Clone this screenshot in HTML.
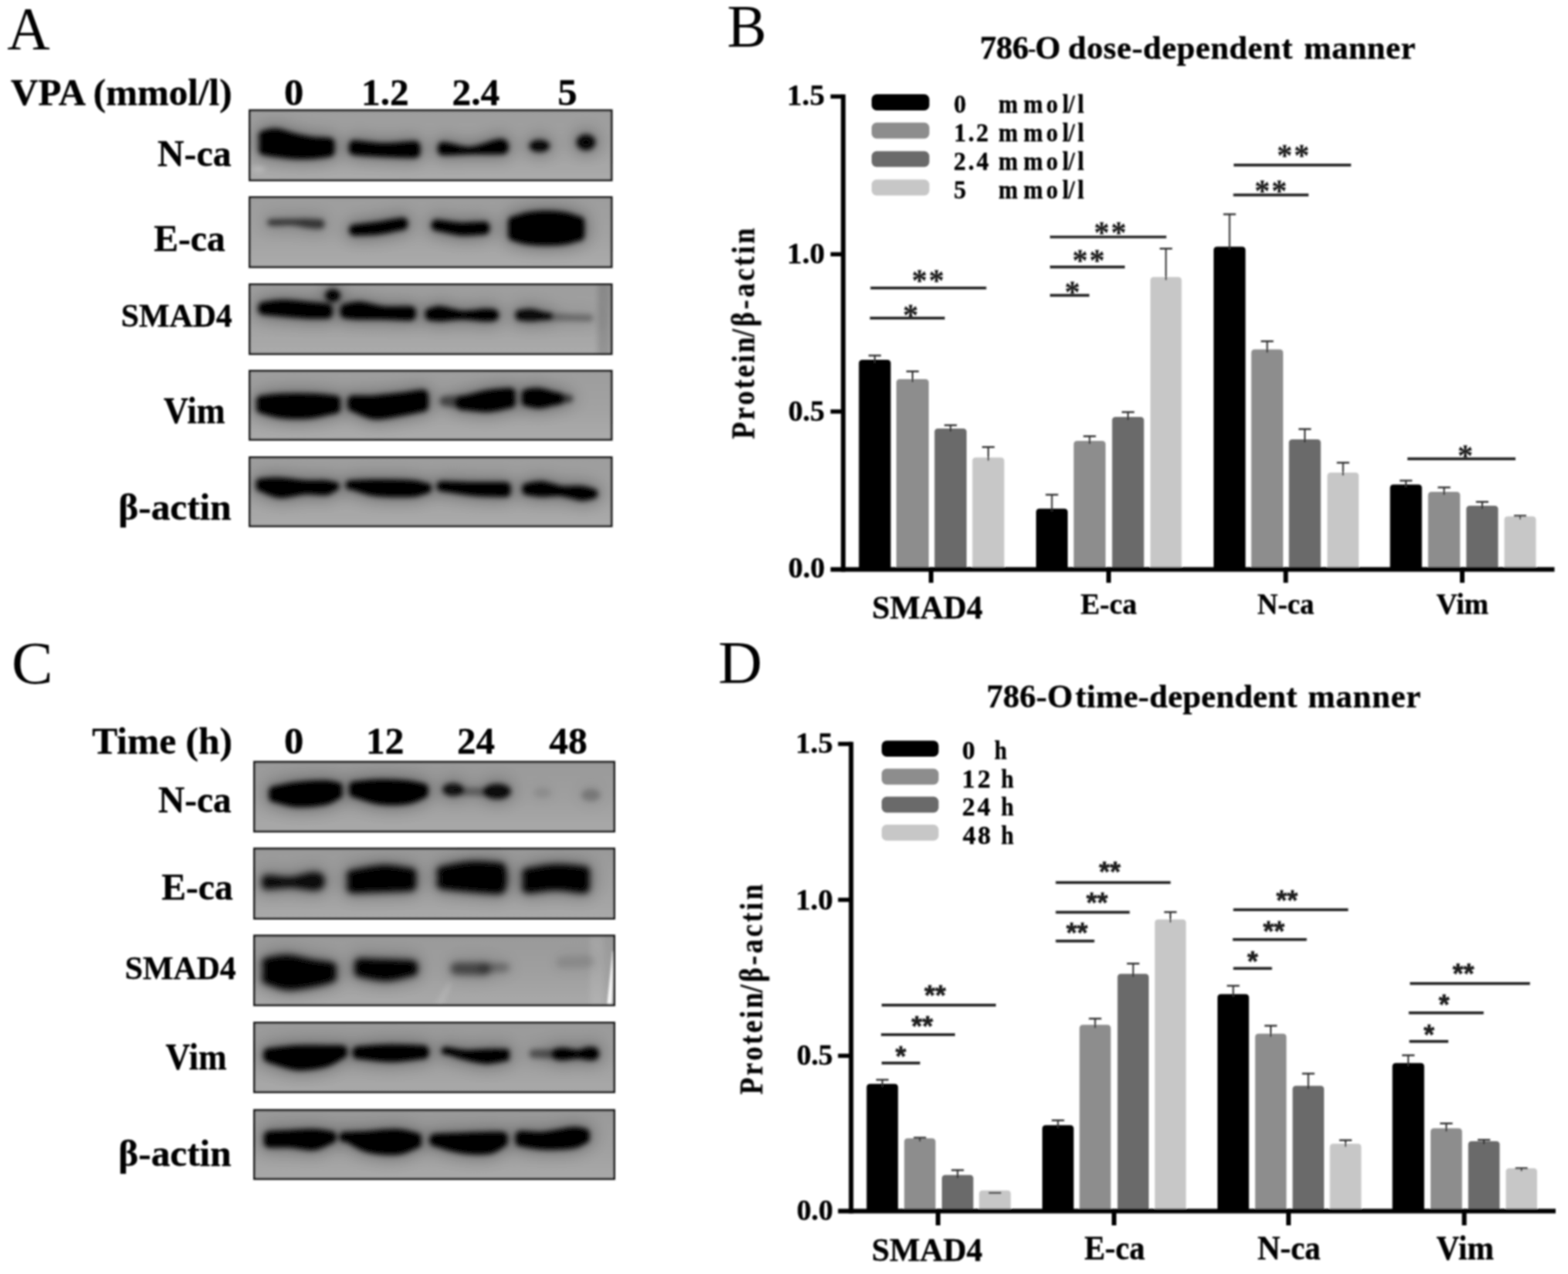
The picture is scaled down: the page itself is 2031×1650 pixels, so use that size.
<!DOCTYPE html>
<html lang="en">
<head>
<meta charset="utf-8">
<title>VPA regulates EMT markers in 786-O cells</title>
<style>
html,body{margin:0;padding:0;background:#fff;}
body{width:2031px;height:1650px;overflow:hidden;}
svg{display:block;}
text{white-space:pre;}
.sb_{font-family:"Liberation Serif","DejaVu Serif",serif;font-weight:bold;stroke:#000;stroke-width:0.4px;stroke-linejoin:round;}
.ss_{font-family:"Liberation Serif","DejaVu Serif",serif;font-weight:bold;stroke:#1c1c1c;stroke-width:0.3px;}
.sr_{font-family:"Liberation Serif","DejaVu Serif",serif;font-weight:normal;}
.ab_{font-family:"Liberation Sans","DejaVu Sans",sans-serif;font-weight:bold;stroke:#1c1c1c;stroke-width:0.5px;stroke-linejoin:round;}
</style>
</head>
<body>
<svg width="2031" height="1650" viewBox="0 0 2031 1650">
<defs>
<filter id="soft" x="0" y="0" width="2031" height="1650" filterUnits="userSpaceOnUse"><feGaussianBlur stdDeviation="1.0"/></filter>
<filter id="b3" x="0" y="0" width="2031" height="1650" filterUnits="userSpaceOnUse"><feGaussianBlur stdDeviation="3.0"/></filter>
<filter id="b1" x="0" y="0" width="2031" height="1650" filterUnits="userSpaceOnUse"><feGaussianBlur stdDeviation="1.3"/></filter>
<filter id="b4" x="0" y="0" width="2031" height="1650" filterUnits="userSpaceOnUse"><feGaussianBlur stdDeviation="4.2"/></filter>
<filter id="b5" x="0" y="0" width="2031" height="1650" filterUnits="userSpaceOnUse"><feGaussianBlur stdDeviation="6"/></filter>
<filter id="b9" x="0" y="0" width="2031" height="1650" filterUnits="userSpaceOnUse"><feGaussianBlur stdDeviation="10"/></filter>
<linearGradient id="gbg" x1="0" y1="0" x2="0" y2="1"><stop offset="0" stop-color="#9d9d9d"/><stop offset="0.55" stop-color="#a2a2a2"/><stop offset="1" stop-color="#ababab"/></linearGradient>
<linearGradient id="gbg2" x1="0" y1="0" x2="0" y2="1"><stop offset="0" stop-color="#999999"/><stop offset="0.55" stop-color="#a0a0a0"/><stop offset="1" stop-color="#a9a9a9"/></linearGradient>
</defs>
<rect x="0" y="0" width="2031" height="1650" fill="#ffffff"/>
<g filter="url(#soft)">
<text class="sr_" transform="translate(9.13,63.40) scale(0.9838,1)" font-size="78.00" fill="#000">A</text>
<text class="sr_" transform="translate(941.80,60.20) scale(0.9844,1)" font-size="78.00" fill="#000">B</text>
<text class="sr_" transform="translate(14.99,884.60) scale(1.0301,1)" font-size="78.00" fill="#000">C</text>
<text class="sr_" transform="translate(930.23,884.00) scale(1.0118,1)" font-size="78.00" fill="#000">D</text>
<clipPath id="c1"><rect x="322" y="141.6" width="471.5" height="93.1"/></clipPath>
<rect x="322" y="141.6" width="471.5" height="93.1" fill="url(#gbg)"/>
<g clip-path="url(#c1)">
<ellipse cx="335" cy="219" rx="9" ry="4" fill="#fff" opacity="0.22" filter="url(#b3)"/>
<g filter="url(#b9)" opacity="0.30">
<path d="M343.0,192.0 C342.9,189.4 342.9,180.4 343.0,177.8 C343.1,175.1 341.1,176.7 343.6,176.0 C346.1,175.3 351.9,173.1 357.8,173.7 C363.7,174.3 371.5,177.7 379.0,179.5 C386.5,181.3 395.2,183.3 402.7,184.3 C410.2,185.3 420.1,185.1 424.0,185.5 C427.9,185.9 425.5,185.0 425.8,186.6 C426.1,188.2 426.1,193.5 425.8,195.0 C425.5,196.6 427.9,195.5 424.0,196.1 C420.1,196.7 410.2,198.1 402.7,198.5 C395.2,198.9 386.5,198.9 379.0,198.5 C371.5,198.1 363.7,196.9 357.8,196.1 C351.9,195.3 346.1,194.5 343.6,193.8 C341.1,193.1 343.1,194.7 343.0,192.0Z" fill="#000" stroke="#000" stroke-width="25.0" stroke-linejoin="round" opacity="1.0"/>
<path d="M461.2,193.3 C461.1,192.6 461.1,190.2 461.2,189.5 C461.3,188.8 455.8,188.5 461.8,189.0 C467.8,189.5 485.5,192.3 497.3,192.5 C509.1,192.7 526.1,190.5 532.7,190.2 C539.3,189.9 536.2,189.8 536.9,190.9 C537.6,192.0 537.6,195.5 536.9,196.6 C536.2,197.7 539.3,197.4 532.7,197.3 C526.1,197.2 509.1,196.7 497.3,196.1 C485.5,195.5 467.8,194.3 461.8,193.8 C455.8,193.3 461.3,194.0 461.2,193.3Z" fill="#000" stroke="#000" stroke-width="25.0" stroke-linejoin="round" opacity="1.0"/>
<path d="M571.8,195.9 C570.8,194.7 570.8,190.6 571.8,189.4 C572.8,188.2 571.6,187.8 577.7,188.6 C583.8,189.4 597.4,195.0 608.4,194.4 C619.4,193.8 636.4,186.4 643.9,185.0 C651.4,183.6 651.7,184.5 653.3,186.0 C654.9,187.6 654.9,192.8 653.3,194.4 C651.7,195.9 651.4,195.2 643.9,195.4 C636.4,195.6 619.4,195.2 608.4,195.4 C597.4,195.6 583.8,196.6 577.7,196.7 C571.6,196.8 572.8,197.1 571.8,195.9Z" fill="#000" stroke="#000" stroke-width="19.2" stroke-linejoin="round" opacity="1.0"/>
<ellipse cx="698.8" cy="189" rx="18.5" ry="13.2" fill="#000" opacity="0.95"/>
<ellipse cx="759" cy="184.3" rx="17.5" ry="15.5" fill="#000" opacity="0.95"/>
</g>
<g filter="url(#b3)">
<path d="M343.0,192.0 C342.9,189.4 342.9,180.4 343.0,177.8 C343.1,175.1 341.1,176.7 343.6,176.0 C346.1,175.3 351.9,173.1 357.8,173.7 C363.7,174.3 371.5,177.7 379.0,179.5 C386.5,181.3 395.2,183.3 402.7,184.3 C410.2,185.3 420.1,185.1 424.0,185.5 C427.9,185.9 425.5,185.0 425.8,186.6 C426.1,188.2 426.1,193.5 425.8,195.0 C425.5,196.6 427.9,195.5 424.0,196.1 C420.1,196.7 410.2,198.1 402.7,198.5 C395.2,198.9 386.5,198.9 379.0,198.5 C371.5,198.1 363.7,196.9 357.8,196.1 C351.9,195.3 346.1,194.5 343.6,193.8 C341.1,193.1 343.1,194.7 343.0,192.0Z" fill="#000" stroke="#000" stroke-width="14.8" stroke-linejoin="round" opacity="1.0"/>
<path d="M461.2,193.3 C461.1,192.6 461.1,190.2 461.2,189.5 C461.3,188.8 455.8,188.5 461.8,189.0 C467.8,189.5 485.5,192.3 497.3,192.5 C509.1,192.7 526.1,190.5 532.7,190.2 C539.3,189.9 536.2,189.8 536.9,190.9 C537.6,192.0 537.6,195.5 536.9,196.6 C536.2,197.7 539.3,197.4 532.7,197.3 C526.1,197.2 509.1,196.7 497.3,196.1 C485.5,195.5 467.8,194.3 461.8,193.8 C455.8,193.3 461.3,194.0 461.2,193.3Z" fill="#000" stroke="#000" stroke-width="14.8" stroke-linejoin="round" opacity="1.0"/>
<path d="M571.8,195.9 C570.8,194.7 570.8,190.6 571.8,189.4 C572.8,188.2 571.6,187.8 577.7,188.6 C583.8,189.4 597.4,195.0 608.4,194.4 C619.4,193.8 636.4,186.4 643.9,185.0 C651.4,183.6 651.7,184.5 653.3,186.0 C654.9,187.6 654.9,192.8 653.3,194.4 C651.7,195.9 651.4,195.2 643.9,195.4 C636.4,195.6 619.4,195.2 608.4,195.4 C597.4,195.6 583.8,196.6 577.7,196.7 C571.6,196.8 572.8,197.1 571.8,195.9Z" fill="#000" stroke="#000" stroke-width="9.0" stroke-linejoin="round" opacity="1.0"/>
<ellipse cx="698.8" cy="189" rx="13.4" ry="8.1" fill="#000" opacity="0.95"/>
<ellipse cx="759" cy="184.3" rx="12.4" ry="10.4" fill="#000" opacity="0.95"/>
</g>
</g>
<rect x="323.4" y="143.0" width="468.7" height="90.3" fill="none" stroke="#1e1e1e" stroke-width="2.8"/>
<clipPath id="c2"><rect x="322" y="254.2" width="471.5" height="93.0"/></clipPath>
<rect x="322" y="254.2" width="471.5" height="93.0" fill="url(#gbg)"/>
<g clip-path="url(#c2)">
<g filter="url(#b9)" opacity="0.30">
<path d="M350.8,288.7 C349.6,288.5 349.6,287.8 350.8,287.5 C352.0,287.3 353.1,287.5 358.0,287.4 C362.9,287.3 373.8,287.3 380.0,287.2 C386.2,287.1 390.0,286.6 395.0,286.6 C400.0,286.6 406.5,287.2 410.0,287.4 C413.5,287.6 415.2,287.1 416.2,287.9 C417.2,288.8 417.2,291.4 416.2,292.3 C415.2,293.1 413.5,293.0 410.0,292.8 C406.5,292.6 400.0,292.0 395.0,291.2 C390.0,290.4 386.2,288.6 380.0,288.2 C373.8,287.8 362.9,288.7 358.0,288.8 C353.1,288.9 352.0,288.9 350.8,288.7Z" fill="#000" stroke="#000" stroke-width="17.6" stroke-linejoin="round" opacity="0.62"/>
<path d="M459.6,298.2 C459.2,298.1 459.2,297.6 459.6,297.4 C460.0,297.3 456.7,297.9 461.8,297.3 C466.9,296.7 480.7,295.2 490.2,293.8 C499.7,292.4 513.5,289.8 518.6,289.0 C523.7,288.2 520.5,288.9 520.9,289.2 C521.3,289.6 521.3,290.7 520.9,291.0 C520.5,291.3 523.7,290.2 518.6,291.2 C513.5,292.2 499.7,295.8 490.2,297.0 C480.7,298.2 466.9,298.1 461.8,298.3 C456.7,298.5 460.0,298.3 459.6,298.2Z" fill="#000" stroke="#000" stroke-width="24.0" stroke-linejoin="round" opacity="1.0"/>
<path d="M566.0,292.3 C565.6,292.1 565.6,291.6 566.0,291.5 C566.4,291.4 563.1,290.8 568.2,291.4 C573.3,292.0 587.1,294.6 596.6,295.0 C606.1,295.4 620.1,293.9 625.0,293.8 C629.9,293.7 625.8,293.6 626.0,294.1 C626.2,294.6 626.2,296.2 626.0,296.7 C625.8,297.2 629.9,296.7 625.0,297.0 C620.1,297.3 606.1,299.1 596.6,298.3 C587.1,297.5 573.3,293.4 568.2,292.4 C563.1,291.4 566.4,292.4 566.0,292.3Z" fill="#000" stroke="#000" stroke-width="24.0" stroke-linejoin="round" opacity="1.0"/>
<path d="M665.7,303.3 C665.4,300.6 665.4,291.5 665.7,288.8 C666.0,286.1 664.1,288.2 667.5,287.0 C670.9,285.8 679.3,282.8 686.0,281.7 C692.7,280.6 700.4,280.1 707.7,280.1 C715.0,280.1 723.3,280.6 730.0,281.7 C736.7,282.8 744.6,285.8 747.9,287.0 C751.2,288.2 749.4,286.1 749.7,288.8 C750.0,291.5 750.0,300.6 749.7,303.3 C749.4,306.0 751.2,304.0 747.9,305.1 C744.6,306.2 736.7,308.8 730.0,309.7 C723.3,310.6 715.0,310.8 707.7,310.8 C700.4,310.8 692.7,310.6 686.0,309.7 C679.3,308.8 670.9,306.2 667.5,305.1 C664.1,304.0 666.0,306.0 665.7,303.3Z" fill="#000" stroke="#000" stroke-width="25.0" stroke-linejoin="round" opacity="1.0"/>
</g>
<g filter="url(#b3)">
<path d="M350.8,288.7 C349.6,288.5 349.6,287.8 350.8,287.5 C352.0,287.3 353.1,287.5 358.0,287.4 C362.9,287.3 373.8,287.3 380.0,287.2 C386.2,287.1 390.0,286.6 395.0,286.6 C400.0,286.6 406.5,287.2 410.0,287.4 C413.5,287.6 415.2,287.1 416.2,287.9 C417.2,288.8 417.2,291.4 416.2,292.3 C415.2,293.1 413.5,293.0 410.0,292.8 C406.5,292.6 400.0,292.0 395.0,291.2 C390.0,290.4 386.2,288.6 380.0,288.2 C373.8,287.8 362.9,288.7 358.0,288.8 C353.1,288.9 352.0,288.9 350.8,288.7Z" fill="#000" stroke="#000" stroke-width="7.4" stroke-linejoin="round" opacity="0.62"/>
<path d="M459.6,298.2 C459.2,298.1 459.2,297.6 459.6,297.4 C460.0,297.3 456.7,297.9 461.8,297.3 C466.9,296.7 480.7,295.2 490.2,293.8 C499.7,292.4 513.5,289.8 518.6,289.0 C523.7,288.2 520.5,288.9 520.9,289.2 C521.3,289.6 521.3,290.7 520.9,291.0 C520.5,291.3 523.7,290.2 518.6,291.2 C513.5,292.2 499.7,295.8 490.2,297.0 C480.7,298.2 466.9,298.1 461.8,298.3 C456.7,298.5 460.0,298.3 459.6,298.2Z" fill="#000" stroke="#000" stroke-width="13.8" stroke-linejoin="round" opacity="1.0"/>
<path d="M566.0,292.3 C565.6,292.1 565.6,291.6 566.0,291.5 C566.4,291.4 563.1,290.8 568.2,291.4 C573.3,292.0 587.1,294.6 596.6,295.0 C606.1,295.4 620.1,293.9 625.0,293.8 C629.9,293.7 625.8,293.6 626.0,294.1 C626.2,294.6 626.2,296.2 626.0,296.7 C625.8,297.2 629.9,296.7 625.0,297.0 C620.1,297.3 606.1,299.1 596.6,298.3 C587.1,297.5 573.3,293.4 568.2,292.4 C563.1,291.4 566.4,292.4 566.0,292.3Z" fill="#000" stroke="#000" stroke-width="13.8" stroke-linejoin="round" opacity="1.0"/>
<path d="M665.7,303.3 C665.4,300.6 665.4,291.5 665.7,288.8 C666.0,286.1 664.1,288.2 667.5,287.0 C670.9,285.8 679.3,282.8 686.0,281.7 C692.7,280.6 700.4,280.1 707.7,280.1 C715.0,280.1 723.3,280.6 730.0,281.7 C736.7,282.8 744.6,285.8 747.9,287.0 C751.2,288.2 749.4,286.1 749.7,288.8 C750.0,291.5 750.0,300.6 749.7,303.3 C749.4,306.0 751.2,304.0 747.9,305.1 C744.6,306.2 736.7,308.8 730.0,309.7 C723.3,310.6 715.0,310.8 707.7,310.8 C700.4,310.8 692.7,310.6 686.0,309.7 C679.3,308.8 670.9,306.2 667.5,305.1 C664.1,304.0 666.0,306.0 665.7,303.3Z" fill="#000" stroke="#000" stroke-width="14.8" stroke-linejoin="round" opacity="1.0"/>
</g>
</g>
<rect x="323.4" y="255.6" width="468.7" height="90.2" fill="none" stroke="#1e1e1e" stroke-width="2.8"/>
<clipPath id="c3"><rect x="322" y="367" width="471.5" height="92.69999999999999"/></clipPath>
<rect x="322" y="367" width="471.5" height="92.69999999999999" fill="url(#gbg)"/>
<g clip-path="url(#c3)">
<rect x="774" y="367" width="16" height="93" fill="#000" opacity="0.13" filter="url(#b3)"/>
<g filter="url(#b9)" opacity="0.30">
<path d="M343.0,400.4 C342.9,400.0 342.9,398.6 343.0,398.2 C343.1,397.8 339.6,398.3 343.6,397.9 C347.7,397.5 358.2,395.5 367.3,395.5 C376.4,395.5 388.9,397.1 398.0,397.9 C407.1,398.7 417.7,399.8 421.7,400.3 C425.7,400.8 422.1,400.0 422.2,400.8 C422.3,401.6 422.3,404.1 422.2,404.9 C422.1,405.7 425.7,405.3 421.7,405.4 C417.7,405.5 407.1,405.8 398.0,405.4 C388.9,405.0 376.4,403.8 367.3,403.0 C358.2,402.2 347.7,401.1 343.6,400.7 C339.6,400.3 343.1,400.8 343.0,400.4Z" fill="#000" stroke="#000" stroke-width="25.0" stroke-linejoin="round" opacity="1.0"/>
<ellipse cx="431" cy="382.7" rx="15.3" ry="13.6" fill="#000" opacity="0.97"/>
<path d="M448.2,404.9 C447.9,404.1 447.9,401.6 448.2,400.8 C448.5,400.0 446.9,400.8 450.0,400.3 C453.1,399.8 458.7,397.3 466.6,397.9 C474.5,398.5 487.1,402.8 497.3,403.8 C507.5,404.8 522.4,403.7 528.0,403.8 C533.6,403.9 530.5,403.6 531.0,404.2 C531.5,404.8 531.5,406.8 531.0,407.4 C530.5,408.0 533.6,407.9 528.0,407.8 C522.4,407.7 507.5,406.8 497.3,406.6 C487.1,406.4 474.5,406.8 466.6,406.6 C458.7,406.4 453.1,405.7 450.0,405.4 C446.9,405.1 448.5,405.7 448.2,404.9Z" fill="#000" stroke="#000" stroke-width="25.0" stroke-linejoin="round" opacity="1.0"/>
<path d="M556.2,409.3 C555.7,408.4 555.7,405.6 556.2,404.7 C556.6,403.9 556.4,404.6 558.8,404.1 C561.2,403.7 563.9,401.2 570.6,401.8 C577.3,402.3 589.5,407.1 599.0,407.6 C608.5,408.2 620.6,405.6 627.3,405.2 C634.0,404.9 637.4,405.0 639.4,405.8 C641.5,406.7 641.5,409.5 639.4,410.4 C637.4,411.2 634.0,411.2 627.3,410.9 C620.6,410.7 608.5,408.6 599.0,408.6 C589.5,408.6 577.3,410.7 570.6,410.9 C563.9,411.1 561.2,410.1 558.8,409.9 C556.4,409.6 556.6,410.1 556.2,409.3Z" fill="#000" stroke="#000" stroke-width="20.9" stroke-linejoin="round" opacity="1.0"/>
<path d="M672.3,410.2 C671.9,409.4 671.9,406.9 672.3,406.1 C672.7,405.3 671.9,405.9 674.6,405.6 C677.4,405.3 683.6,403.9 688.8,404.4 C694.0,404.9 702.4,408.0 706.0,408.8 C709.6,409.5 709.7,408.8 710.4,408.9 C711.1,409.0 711.1,409.5 710.4,409.7 C709.7,409.8 709.6,409.4 706.0,409.8 C702.4,410.1 694.0,411.6 688.8,411.8 C683.6,411.9 677.4,411.0 674.6,410.7 C671.9,410.4 672.7,411.0 672.3,410.2Z" fill="#000" stroke="#000" stroke-width="19.2" stroke-linejoin="round" opacity="0.92"/>
<path d="M703.1,411.3 C701.6,410.9 701.6,409.8 703.1,409.5 C704.6,409.2 705.9,409.1 712.0,409.3 C718.1,409.5 732.0,410.4 740.0,410.7 C748.0,411.0 756.0,411.2 760.0,411.3 C764.0,411.4 763.2,411.2 763.9,411.4 C764.5,411.5 764.5,412.0 763.9,412.2 C763.2,412.3 764.0,412.3 760.0,412.3 C756.0,412.2 748.0,412.0 740.0,411.9 C732.0,411.8 718.1,411.6 712.0,411.5 C705.9,411.4 704.6,411.6 703.1,411.3Z" fill="#000" stroke="#000" stroke-width="18.2" stroke-linejoin="round" opacity="0.3"/>
</g>
<g filter="url(#b3)">
<path d="M343.0,400.4 C342.9,400.0 342.9,398.6 343.0,398.2 C343.1,397.8 339.6,398.3 343.6,397.9 C347.7,397.5 358.2,395.5 367.3,395.5 C376.4,395.5 388.9,397.1 398.0,397.9 C407.1,398.7 417.7,399.8 421.7,400.3 C425.7,400.8 422.1,400.0 422.2,400.8 C422.3,401.6 422.3,404.1 422.2,404.9 C422.1,405.7 425.7,405.3 421.7,405.4 C417.7,405.5 407.1,405.8 398.0,405.4 C388.9,405.0 376.4,403.8 367.3,403.0 C358.2,402.2 347.7,401.1 343.6,400.7 C339.6,400.3 343.1,400.8 343.0,400.4Z" fill="#000" stroke="#000" stroke-width="14.8" stroke-linejoin="round" opacity="1.0"/>
<ellipse cx="431" cy="382.7" rx="10.200000000000001" ry="8.5" fill="#000" opacity="0.97"/>
<path d="M448.2,404.9 C447.9,404.1 447.9,401.6 448.2,400.8 C448.5,400.0 446.9,400.8 450.0,400.3 C453.1,399.8 458.7,397.3 466.6,397.9 C474.5,398.5 487.1,402.8 497.3,403.8 C507.5,404.8 522.4,403.7 528.0,403.8 C533.6,403.9 530.5,403.6 531.0,404.2 C531.5,404.8 531.5,406.8 531.0,407.4 C530.5,408.0 533.6,407.9 528.0,407.8 C522.4,407.7 507.5,406.8 497.3,406.6 C487.1,406.4 474.5,406.8 466.6,406.6 C458.7,406.4 453.1,405.7 450.0,405.4 C446.9,405.1 448.5,405.7 448.2,404.9Z" fill="#000" stroke="#000" stroke-width="14.8" stroke-linejoin="round" opacity="1.0"/>
<path d="M556.2,409.3 C555.7,408.4 555.7,405.6 556.2,404.7 C556.6,403.9 556.4,404.6 558.8,404.1 C561.2,403.7 563.9,401.2 570.6,401.8 C577.3,402.3 589.5,407.1 599.0,407.6 C608.5,408.2 620.6,405.6 627.3,405.2 C634.0,404.9 637.4,405.0 639.4,405.8 C641.5,406.7 641.5,409.5 639.4,410.4 C637.4,411.2 634.0,411.2 627.3,410.9 C620.6,410.7 608.5,408.6 599.0,408.6 C589.5,408.6 577.3,410.7 570.6,410.9 C563.9,411.1 561.2,410.1 558.8,409.9 C556.4,409.6 556.6,410.1 556.2,409.3Z" fill="#000" stroke="#000" stroke-width="10.7" stroke-linejoin="round" opacity="1.0"/>
<path d="M672.3,410.2 C671.9,409.4 671.9,406.9 672.3,406.1 C672.7,405.3 671.9,405.9 674.6,405.6 C677.4,405.3 683.6,403.9 688.8,404.4 C694.0,404.9 702.4,408.0 706.0,408.8 C709.6,409.5 709.7,408.8 710.4,408.9 C711.1,409.0 711.1,409.5 710.4,409.7 C709.7,409.8 709.6,409.4 706.0,409.8 C702.4,410.1 694.0,411.6 688.8,411.8 C683.6,411.9 677.4,411.0 674.6,410.7 C671.9,410.4 672.7,411.0 672.3,410.2Z" fill="#000" stroke="#000" stroke-width="9.0" stroke-linejoin="round" opacity="0.92"/>
<path d="M703.1,411.3 C701.6,410.9 701.6,409.8 703.1,409.5 C704.6,409.2 705.9,409.1 712.0,409.3 C718.1,409.5 732.0,410.4 740.0,410.7 C748.0,411.0 756.0,411.2 760.0,411.3 C764.0,411.4 763.2,411.2 763.9,411.4 C764.5,411.5 764.5,412.0 763.9,412.2 C763.2,412.3 764.0,412.3 760.0,412.3 C756.0,412.2 748.0,412.0 740.0,411.9 C732.0,411.8 718.1,411.6 712.0,411.5 C705.9,411.4 704.6,411.6 703.1,411.3Z" fill="#000" stroke="#000" stroke-width="8.0" stroke-linejoin="round" opacity="0.3"/>
</g>
</g>
<rect x="323.4" y="368.4" width="468.7" height="89.89999999999999" fill="none" stroke="#1e1e1e" stroke-width="2.8"/>
<clipPath id="c4"><rect x="322" y="479" width="471.5" height="91.70000000000005"/></clipPath>
<rect x="322" y="479" width="471.5" height="91.70000000000005" fill="url(#gbg)"/>
<g clip-path="url(#c4)">
<g filter="url(#b9)" opacity="0.30">
<path d="M340.7,527.8 C340.6,526.4 340.6,521.6 340.7,520.2 C340.8,518.8 336.9,519.9 341.3,519.3 C345.7,518.7 357.1,517.3 367.3,516.9 C377.5,516.5 392.1,516.5 402.7,516.9 C413.3,517.3 426.1,518.7 431.1,519.3 C436.1,519.9 432.6,518.8 432.9,520.2 C433.2,521.6 433.2,526.4 432.9,527.8 C432.6,529.2 436.1,527.6 431.1,528.7 C426.1,529.8 413.3,533.6 402.7,534.6 C392.1,535.6 377.5,535.6 367.3,534.6 C357.1,533.6 345.7,529.8 341.3,528.7 C336.9,527.6 340.8,529.2 340.7,527.8Z" fill="#000" stroke="#000" stroke-width="25.0" stroke-linejoin="round" opacity="1.0"/>
<path d="M458.9,525.6 C458.8,524.5 458.8,521.0 458.9,520.0 C459.0,519.0 455.1,519.4 459.5,519.3 C463.9,519.2 475.2,519.9 485.5,519.3 C495.8,518.7 511.1,516.9 521.0,515.7 C530.9,514.5 540.2,512.5 544.6,512.2 C549.0,511.9 547.0,511.5 547.5,513.6 C548.0,515.7 548.0,522.8 547.5,524.9 C547.0,527.0 549.0,525.3 544.6,526.3 C540.2,527.3 530.9,529.5 521.0,531.1 C511.1,532.7 495.8,536.6 485.5,535.8 C475.2,535.0 463.9,528.0 459.5,526.3 C455.1,524.6 459.0,526.6 458.9,525.6Z" fill="#000" stroke="#000" stroke-width="25.0" stroke-linejoin="round" opacity="1.0"/>
<path d="M576.1,519.9 C575.5,519.8 575.5,519.2 576.1,519.1 C576.8,519.0 576.0,519.1 580.0,519.0 C584.0,518.9 595.6,518.3 600.0,518.3 C604.4,518.3 605.4,518.0 606.5,518.8 C607.6,519.6 607.6,522.2 606.5,523.0 C605.4,523.8 604.4,524.0 600.0,523.5 C595.6,523.0 584.0,520.6 580.0,520.0 C576.0,519.4 576.8,520.0 576.1,519.9Z" fill="#000" stroke="#000" stroke-width="23.0" stroke-linejoin="round" opacity="0.5"/>
<path d="M598.5,523.5 C597.6,522.8 597.6,520.5 598.5,519.8 C599.4,519.1 598.1,520.6 603.7,519.3 C609.3,518.0 623.0,513.8 632.0,512.2 C641.0,510.6 653.4,510.0 658.0,509.8 C662.6,509.6 659.5,509.2 659.8,511.0 C660.1,512.8 660.1,518.7 659.8,520.4 C659.5,522.2 662.6,520.6 658.0,521.6 C653.4,522.6 641.0,525.9 632.0,526.3 C623.0,526.7 609.3,524.5 603.7,524.0 C598.1,523.5 599.4,524.2 598.5,523.5Z" fill="#000" stroke="#000" stroke-width="25.0" stroke-linejoin="round" opacity="1.0"/>
<path d="M683.5,518.5 C683.4,517.2 683.4,513.1 683.5,511.8 C683.6,510.6 681.5,511.3 684.0,511.0 C686.5,510.7 692.6,509.1 698.3,509.8 C704.0,510.5 714.1,514.1 718.0,515.0 C721.9,515.9 720.9,514.9 721.5,515.2 C722.1,515.6 722.1,516.9 721.5,517.2 C720.9,517.6 721.9,516.8 718.0,517.5 C714.1,518.2 704.0,521.3 698.3,521.6 C692.6,521.9 686.5,519.8 684.0,519.3 C681.5,518.8 683.6,519.7 683.5,518.5Z" fill="#000" stroke="#000" stroke-width="25.0" stroke-linejoin="round" opacity="1.0"/>
<path d="M715.5,519.2 C714.4,518.1 714.4,514.5 715.5,513.4 C716.5,512.3 718.6,512.2 721.9,512.6 C725.2,513.1 732.4,515.3 735.0,515.8 C737.6,516.4 737.1,515.8 737.5,515.9 C738.0,516.1 738.0,516.6 737.5,516.7 C737.1,516.9 737.6,516.3 735.0,516.8 C732.4,517.4 725.2,519.6 721.9,520.0 C718.6,520.3 716.5,520.3 715.5,519.2Z" fill="#000" stroke="#000" stroke-width="18.9" stroke-linejoin="round" opacity="0.6"/>
</g>
<g filter="url(#b3)">
<path d="M340.7,527.8 C340.6,526.4 340.6,521.6 340.7,520.2 C340.8,518.8 336.9,519.9 341.3,519.3 C345.7,518.7 357.1,517.3 367.3,516.9 C377.5,516.5 392.1,516.5 402.7,516.9 C413.3,517.3 426.1,518.7 431.1,519.3 C436.1,519.9 432.6,518.8 432.9,520.2 C433.2,521.6 433.2,526.4 432.9,527.8 C432.6,529.2 436.1,527.6 431.1,528.7 C426.1,529.8 413.3,533.6 402.7,534.6 C392.1,535.6 377.5,535.6 367.3,534.6 C357.1,533.6 345.7,529.8 341.3,528.7 C336.9,527.6 340.8,529.2 340.7,527.8Z" fill="#000" stroke="#000" stroke-width="14.8" stroke-linejoin="round" opacity="1.0"/>
<path d="M458.9,525.6 C458.8,524.5 458.8,521.0 458.9,520.0 C459.0,519.0 455.1,519.4 459.5,519.3 C463.9,519.2 475.2,519.9 485.5,519.3 C495.8,518.7 511.1,516.9 521.0,515.7 C530.9,514.5 540.2,512.5 544.6,512.2 C549.0,511.9 547.0,511.5 547.5,513.6 C548.0,515.7 548.0,522.8 547.5,524.9 C547.0,527.0 549.0,525.3 544.6,526.3 C540.2,527.3 530.9,529.5 521.0,531.1 C511.1,532.7 495.8,536.6 485.5,535.8 C475.2,535.0 463.9,528.0 459.5,526.3 C455.1,524.6 459.0,526.6 458.9,525.6Z" fill="#000" stroke="#000" stroke-width="14.8" stroke-linejoin="round" opacity="1.0"/>
<path d="M576.1,519.9 C575.5,519.8 575.5,519.2 576.1,519.1 C576.8,519.0 576.0,519.1 580.0,519.0 C584.0,518.9 595.6,518.3 600.0,518.3 C604.4,518.3 605.4,518.0 606.5,518.8 C607.6,519.6 607.6,522.2 606.5,523.0 C605.4,523.8 604.4,524.0 600.0,523.5 C595.6,523.0 584.0,520.6 580.0,520.0 C576.0,519.4 576.8,520.0 576.1,519.9Z" fill="#000" stroke="#000" stroke-width="12.8" stroke-linejoin="round" opacity="0.5"/>
<path d="M598.5,523.5 C597.6,522.8 597.6,520.5 598.5,519.8 C599.4,519.1 598.1,520.6 603.7,519.3 C609.3,518.0 623.0,513.8 632.0,512.2 C641.0,510.6 653.4,510.0 658.0,509.8 C662.6,509.6 659.5,509.2 659.8,511.0 C660.1,512.8 660.1,518.7 659.8,520.4 C659.5,522.2 662.6,520.6 658.0,521.6 C653.4,522.6 641.0,525.9 632.0,526.3 C623.0,526.7 609.3,524.5 603.7,524.0 C598.1,523.5 599.4,524.2 598.5,523.5Z" fill="#000" stroke="#000" stroke-width="14.8" stroke-linejoin="round" opacity="1.0"/>
<path d="M683.5,518.5 C683.4,517.2 683.4,513.1 683.5,511.8 C683.6,510.6 681.5,511.3 684.0,511.0 C686.5,510.7 692.6,509.1 698.3,509.8 C704.0,510.5 714.1,514.1 718.0,515.0 C721.9,515.9 720.9,514.9 721.5,515.2 C722.1,515.6 722.1,516.9 721.5,517.2 C720.9,517.6 721.9,516.8 718.0,517.5 C714.1,518.2 704.0,521.3 698.3,521.6 C692.6,521.9 686.5,519.8 684.0,519.3 C681.5,518.8 683.6,519.7 683.5,518.5Z" fill="#000" stroke="#000" stroke-width="14.8" stroke-linejoin="round" opacity="1.0"/>
<path d="M715.5,519.2 C714.4,518.1 714.4,514.5 715.5,513.4 C716.5,512.3 718.6,512.2 721.9,512.6 C725.2,513.1 732.4,515.3 735.0,515.8 C737.6,516.4 737.1,515.8 737.5,515.9 C738.0,516.1 738.0,516.6 737.5,516.7 C737.1,516.9 737.6,516.3 735.0,516.8 C732.4,517.4 725.2,519.6 721.9,520.0 C718.6,520.3 716.5,520.3 715.5,519.2Z" fill="#000" stroke="#000" stroke-width="8.7" stroke-linejoin="round" opacity="0.6"/>
</g>
</g>
<rect x="323.4" y="480.4" width="468.7" height="88.90000000000005" fill="none" stroke="#1e1e1e" stroke-width="2.8"/>
<clipPath id="c5"><rect x="322" y="591" width="471.5" height="91.70000000000005"/></clipPath>
<rect x="322" y="591" width="471.5" height="91.70000000000005" fill="url(#gbg)"/>
<g clip-path="url(#c5)">
<g filter="url(#b9)" opacity="0.30">
<path d="M337.2,630.9 C336.9,629.9 336.9,626.4 337.2,625.4 C337.5,624.4 334.8,625.0 339.0,624.7 C343.2,624.4 353.2,623.1 362.6,623.5 C372.1,623.9 385.9,626.4 395.7,627.0 C405.5,627.6 415.4,626.6 421.7,627.0 C428.0,627.4 431.4,629.0 433.5,629.4 C435.6,629.8 433.9,629.4 434.0,629.5 C434.1,629.7 434.1,630.2 434.0,630.3 C433.9,630.5 435.6,629.4 433.5,630.4 C431.4,631.4 428.0,635.6 421.7,636.4 C415.4,637.2 405.5,634.6 395.7,635.2 C385.9,635.8 372.1,640.5 362.6,639.9 C353.2,639.3 343.2,633.1 339.0,631.6 C334.8,630.1 337.5,631.9 337.2,630.9Z" fill="#000" stroke="#000" stroke-width="20.4" stroke-linejoin="round" opacity="1.0"/>
<path d="M453.7,628.5 C453.1,628.4 453.1,627.9 453.7,627.8 C454.2,627.6 451.7,627.9 457.0,627.6 C462.3,627.4 472.9,626.5 485.5,626.5 C498.1,626.5 521.8,626.9 532.8,627.6 C543.8,628.4 548.5,630.6 551.7,631.2 C554.9,631.9 552.1,631.1 552.2,631.5 C552.3,631.8 552.3,632.8 552.2,633.1 C552.1,633.5 554.9,632.5 551.7,633.4 C548.5,634.2 543.8,637.5 532.8,638.0 C521.8,638.6 498.1,638.4 485.5,636.9 C472.9,635.3 462.3,630.0 457.0,628.6 C451.7,627.3 454.2,628.7 453.7,628.5Z" fill="#000" stroke="#000" stroke-width="21.7" stroke-linejoin="round" opacity="1.0"/>
<path d="M573.6,630.3 C573.3,630.1 573.3,629.6 573.6,629.5 C573.9,629.4 568.3,629.2 575.3,629.4 C582.3,629.6 602.9,630.4 615.5,630.6 C628.1,630.8 644.4,630.5 651.0,630.6 C657.6,630.7 654.3,630.3 655.0,631.3 C655.7,632.3 655.7,635.8 655.0,636.8 C654.3,637.8 657.6,637.6 651.0,637.5 C644.4,637.4 628.1,637.5 615.5,636.3 C602.9,635.1 582.3,631.4 575.3,630.4 C568.3,629.4 573.9,630.4 573.6,630.3Z" fill="#000" stroke="#000" stroke-width="22.8" stroke-linejoin="round" opacity="1.0"/>
<path d="M683.4,634.9 C683.2,634.4 683.2,632.6 683.4,632.1 C683.5,631.6 680.7,632.2 684.0,631.8 C687.3,631.3 695.9,628.8 703.0,629.4 C710.1,630.0 718.3,634.4 726.6,635.4 C734.9,636.4 745.9,634.8 752.6,635.4 C759.3,635.9 764.3,638.2 766.8,638.9 C769.2,639.5 767.2,638.8 767.3,639.0 C767.4,639.1 767.4,639.7 767.3,639.8 C767.2,640.0 769.2,639.5 766.8,639.9 C764.3,640.4 759.3,642.9 752.6,642.2 C745.9,641.6 734.9,637.1 726.6,636.4 C718.3,635.6 710.1,637.7 703.0,637.5 C695.9,637.4 687.3,635.7 684.0,635.2 C680.7,634.8 683.5,635.4 683.4,634.9Z" fill="#000" stroke="#000" stroke-width="22.7" stroke-linejoin="round" opacity="1.0"/>
</g>
<g filter="url(#b3)">
<path d="M337.2,630.9 C336.9,629.9 336.9,626.4 337.2,625.4 C337.5,624.4 334.8,625.0 339.0,624.7 C343.2,624.4 353.2,623.1 362.6,623.5 C372.1,623.9 385.9,626.4 395.7,627.0 C405.5,627.6 415.4,626.6 421.7,627.0 C428.0,627.4 431.4,629.0 433.5,629.4 C435.6,629.8 433.9,629.4 434.0,629.5 C434.1,629.7 434.1,630.2 434.0,630.3 C433.9,630.5 435.6,629.4 433.5,630.4 C431.4,631.4 428.0,635.6 421.7,636.4 C415.4,637.2 405.5,634.6 395.7,635.2 C385.9,635.8 372.1,640.5 362.6,639.9 C353.2,639.3 343.2,633.1 339.0,631.6 C334.8,630.1 337.5,631.9 337.2,630.9Z" fill="#000" stroke="#000" stroke-width="10.2" stroke-linejoin="round" opacity="1.0"/>
<path d="M453.7,628.5 C453.1,628.4 453.1,627.9 453.7,627.8 C454.2,627.6 451.7,627.9 457.0,627.6 C462.3,627.4 472.9,626.5 485.5,626.5 C498.1,626.5 521.8,626.9 532.8,627.6 C543.8,628.4 548.5,630.6 551.7,631.2 C554.9,631.9 552.1,631.1 552.2,631.5 C552.3,631.8 552.3,632.8 552.2,633.1 C552.1,633.5 554.9,632.5 551.7,633.4 C548.5,634.2 543.8,637.5 532.8,638.0 C521.8,638.6 498.1,638.4 485.5,636.9 C472.9,635.3 462.3,630.0 457.0,628.6 C451.7,627.3 454.2,628.7 453.7,628.5Z" fill="#000" stroke="#000" stroke-width="11.5" stroke-linejoin="round" opacity="1.0"/>
<path d="M573.6,630.3 C573.3,630.1 573.3,629.6 573.6,629.5 C573.9,629.4 568.3,629.2 575.3,629.4 C582.3,629.6 602.9,630.4 615.5,630.6 C628.1,630.8 644.4,630.5 651.0,630.6 C657.6,630.7 654.3,630.3 655.0,631.3 C655.7,632.3 655.7,635.8 655.0,636.8 C654.3,637.8 657.6,637.6 651.0,637.5 C644.4,637.4 628.1,637.5 615.5,636.3 C602.9,635.1 582.3,631.4 575.3,630.4 C568.3,629.4 573.9,630.4 573.6,630.3Z" fill="#000" stroke="#000" stroke-width="12.6" stroke-linejoin="round" opacity="1.0"/>
<path d="M683.4,634.9 C683.2,634.4 683.2,632.6 683.4,632.1 C683.5,631.6 680.7,632.2 684.0,631.8 C687.3,631.3 695.9,628.8 703.0,629.4 C710.1,630.0 718.3,634.4 726.6,635.4 C734.9,636.4 745.9,634.8 752.6,635.4 C759.3,635.9 764.3,638.2 766.8,638.9 C769.2,639.5 767.2,638.8 767.3,639.0 C767.4,639.1 767.4,639.7 767.3,639.8 C767.2,640.0 769.2,639.5 766.8,639.9 C764.3,640.4 759.3,642.9 752.6,642.2 C745.9,641.6 734.9,637.1 726.6,636.4 C718.3,635.6 710.1,637.7 703.0,637.5 C695.9,637.4 687.3,635.7 684.0,635.2 C680.7,634.8 683.5,635.4 683.4,634.9Z" fill="#000" stroke="#000" stroke-width="12.5" stroke-linejoin="round" opacity="1.0"/>
</g>
</g>
<rect x="323.4" y="592.4" width="468.7" height="88.90000000000005" fill="none" stroke="#1e1e1e" stroke-width="2.8"/>
<clipPath id="c6"><rect x="328" y="985.5" width="469" height="92.70000000000005"/></clipPath>
<rect x="328" y="985.5" width="469" height="92.70000000000005" fill="url(#gbg2)"/>
<g clip-path="url(#c6)">
<g filter="url(#b9)" opacity="0.30">
<path d="M356.3,1031.4 C356.0,1030.3 356.0,1026.8 356.3,1025.7 C356.6,1024.6 353.4,1025.9 358.0,1025.0 C362.6,1024.1 373.7,1021.4 384.0,1020.2 C394.3,1019.0 411.1,1017.9 419.6,1017.9 C428.1,1017.9 432.4,1019.7 435.0,1020.2 C437.6,1020.7 435.4,1019.8 435.5,1021.0 C435.6,1022.3 435.6,1026.4 435.5,1027.7 C435.4,1028.9 437.6,1027.2 435.0,1028.5 C432.4,1029.8 428.1,1033.9 419.6,1035.5 C411.1,1037.1 394.3,1038.6 384.0,1038.0 C373.7,1037.4 362.6,1033.2 358.0,1032.1 C353.4,1031.0 356.6,1032.5 356.3,1031.4Z" fill="#000" stroke="#000" stroke-width="25.0" stroke-linejoin="round" opacity="1.0"/>
<path d="M460.3,1025.4 C460.0,1024.3 460.0,1020.8 460.3,1019.7 C460.6,1018.6 457.0,1019.5 462.0,1019.0 C467.0,1018.5 479.8,1016.9 490.5,1016.7 C501.2,1016.5 516.8,1017.1 526.0,1017.9 C535.2,1018.7 542.6,1020.8 546.0,1021.5 C549.4,1022.2 546.4,1021.2 546.5,1022.1 C546.6,1023.0 546.6,1025.9 546.5,1026.7 C546.4,1027.6 549.4,1026.0 546.0,1027.3 C542.6,1028.6 535.2,1033.2 526.0,1034.4 C516.8,1035.6 501.2,1035.8 490.5,1034.4 C479.8,1033.0 467.0,1027.6 462.0,1026.1 C457.0,1024.6 460.6,1026.5 460.3,1025.4Z" fill="#000" stroke="#000" stroke-width="25.0" stroke-linejoin="round" opacity="1.0"/>
<ellipse cx="586.8" cy="1022.6" rx="19.0" ry="13.8" fill="#000" opacity="0.86"/>
<path d="M596.0,1025.4 C595.3,1025.2 595.3,1024.8 596.0,1024.6 C596.7,1024.4 594.7,1024.4 600.0,1024.5 C605.3,1024.6 622.7,1024.9 628.0,1025.0 C633.3,1025.1 631.3,1024.9 632.0,1025.2 C632.7,1025.4 632.7,1026.1 632.0,1026.3 C631.3,1026.6 633.3,1026.6 628.0,1026.5 C622.7,1026.4 605.3,1025.7 600.0,1025.5 C594.7,1025.3 596.7,1025.6 596.0,1025.4Z" fill="#000" stroke="#000" stroke-width="20.0" stroke-linejoin="round" opacity="0.33"/>
<ellipse cx="644" cy="1025" rx="23.0" ry="15.2" fill="#000" opacity="0.9"/>
<ellipse cx="702.5" cy="1026.7" rx="17.0" ry="12.5" fill="#000" opacity="0.09"/>
<ellipse cx="765.3" cy="1029.7" rx="17.5" ry="13.2" fill="#000" opacity="0.21"/>
</g>
<g filter="url(#b3)">
<path d="M356.3,1031.4 C356.0,1030.3 356.0,1026.8 356.3,1025.7 C356.6,1024.6 353.4,1025.9 358.0,1025.0 C362.6,1024.1 373.7,1021.4 384.0,1020.2 C394.3,1019.0 411.1,1017.9 419.6,1017.9 C428.1,1017.9 432.4,1019.7 435.0,1020.2 C437.6,1020.7 435.4,1019.8 435.5,1021.0 C435.6,1022.3 435.6,1026.4 435.5,1027.7 C435.4,1028.9 437.6,1027.2 435.0,1028.5 C432.4,1029.8 428.1,1033.9 419.6,1035.5 C411.1,1037.1 394.3,1038.6 384.0,1038.0 C373.7,1037.4 362.6,1033.2 358.0,1032.1 C353.4,1031.0 356.6,1032.5 356.3,1031.4Z" fill="#000" stroke="#000" stroke-width="14.8" stroke-linejoin="round" opacity="1.0"/>
<path d="M460.3,1025.4 C460.0,1024.3 460.0,1020.8 460.3,1019.7 C460.6,1018.6 457.0,1019.5 462.0,1019.0 C467.0,1018.5 479.8,1016.9 490.5,1016.7 C501.2,1016.5 516.8,1017.1 526.0,1017.9 C535.2,1018.7 542.6,1020.8 546.0,1021.5 C549.4,1022.2 546.4,1021.2 546.5,1022.1 C546.6,1023.0 546.6,1025.9 546.5,1026.7 C546.4,1027.6 549.4,1026.0 546.0,1027.3 C542.6,1028.6 535.2,1033.2 526.0,1034.4 C516.8,1035.6 501.2,1035.8 490.5,1034.4 C479.8,1033.0 467.0,1027.6 462.0,1026.1 C457.0,1024.6 460.6,1026.5 460.3,1025.4Z" fill="#000" stroke="#000" stroke-width="14.8" stroke-linejoin="round" opacity="1.0"/>
<ellipse cx="586.8" cy="1022.6" rx="13.9" ry="8.7" fill="#000" opacity="0.86"/>
<path d="M596.0,1025.4 C595.3,1025.2 595.3,1024.8 596.0,1024.6 C596.7,1024.4 594.7,1024.4 600.0,1024.5 C605.3,1024.6 622.7,1024.9 628.0,1025.0 C633.3,1025.1 631.3,1024.9 632.0,1025.2 C632.7,1025.4 632.7,1026.1 632.0,1026.3 C631.3,1026.6 633.3,1026.6 628.0,1026.5 C622.7,1026.4 605.3,1025.7 600.0,1025.5 C594.7,1025.3 596.7,1025.6 596.0,1025.4Z" fill="#000" stroke="#000" stroke-width="9.8" stroke-linejoin="round" opacity="0.33"/>
<ellipse cx="644" cy="1025" rx="17.9" ry="10.1" fill="#000" opacity="0.9"/>
<ellipse cx="702.5" cy="1026.7" rx="11.9" ry="7.4" fill="#000" opacity="0.09"/>
<ellipse cx="765.3" cy="1029.7" rx="12.4" ry="8.1" fill="#000" opacity="0.21"/>
</g>
</g>
<rect x="329.4" y="986.9" width="466.2" height="89.90000000000005" fill="none" stroke="#1e1e1e" stroke-width="2.8"/>
<clipPath id="c7"><rect x="328" y="1097.7" width="469" height="93.29999999999995"/></clipPath>
<rect x="328" y="1097.7" width="469" height="93.29999999999995" fill="url(#gbg2)"/>
<g clip-path="url(#c7)">
<g filter="url(#b9)" opacity="0.30">
<path d="M345.8,1144.9 C345.3,1144.0 345.3,1141.1 345.8,1140.3 C346.3,1139.4 343.4,1139.4 348.6,1139.7 C353.8,1140.0 367.9,1142.7 377.0,1142.1 C386.1,1141.5 397.0,1137.0 403.0,1136.2 C409.0,1135.4 411.3,1135.7 413.0,1137.2 C414.7,1138.8 414.7,1144.0 413.0,1145.6 C411.3,1147.1 409.0,1147.0 403.0,1146.6 C397.0,1146.2 386.1,1143.3 377.0,1143.1 C367.9,1142.9 353.8,1145.2 348.6,1145.5 C343.4,1145.8 346.3,1145.8 345.8,1144.9Z" fill="#000" stroke="#000" stroke-width="22.8" stroke-linejoin="round" opacity="0.92"/>
<path d="M458.0,1147.6 C457.7,1145.2 457.7,1137.6 458.0,1135.2 C458.3,1132.9 453.6,1134.9 459.8,1133.7 C466.0,1132.5 483.8,1128.2 495.2,1127.8 C506.6,1127.4 522.3,1130.5 528.3,1131.4 C534.3,1132.3 530.8,1130.6 531.3,1132.9 C531.8,1135.2 531.8,1142.9 531.3,1145.2 C530.8,1147.5 534.3,1146.2 528.3,1146.7 C522.3,1147.2 506.6,1147.5 495.2,1147.9 C483.8,1148.3 466.0,1149.2 459.8,1149.1 C453.6,1149.0 458.3,1149.9 458.0,1147.6Z" fill="#000" stroke="#000" stroke-width="25.0" stroke-linejoin="round" opacity="1.0"/>
<path d="M575.0,1142.9 C574.9,1140.6 574.9,1132.8 575.0,1130.5 C575.1,1128.2 570.0,1130.2 575.6,1129.0 C581.2,1127.8 597.7,1123.9 608.7,1123.1 C619.7,1122.3 635.2,1123.7 641.8,1124.3 C648.4,1124.9 647.2,1123.0 648.3,1126.9 C649.4,1130.8 649.4,1143.8 648.3,1147.7 C647.2,1151.6 648.4,1150.3 641.8,1150.3 C635.2,1150.3 619.7,1148.9 608.7,1147.9 C597.7,1146.9 581.2,1145.2 575.6,1144.4 C570.0,1143.6 575.1,1145.2 575.0,1142.9Z" fill="#000" stroke="#000" stroke-width="25.0" stroke-linejoin="round" opacity="1.0"/>
<path d="M684.9,1147.3 C684.6,1144.7 684.6,1135.8 684.9,1133.2 C685.2,1130.5 680.9,1132.5 686.7,1131.4 C692.5,1130.3 708.8,1127.0 719.8,1126.6 C730.8,1126.2 747.0,1128.3 753.0,1129.0 C759.0,1129.7 755.4,1128.0 755.9,1131.0 C756.4,1134.0 756.4,1144.1 755.9,1147.1 C755.4,1150.1 759.0,1149.4 753.0,1149.1 C747.0,1148.8 730.8,1145.5 719.8,1145.5 C708.8,1145.5 692.5,1148.8 686.7,1149.1 C680.9,1149.4 685.2,1150.0 684.9,1147.3Z" fill="#000" stroke="#000" stroke-width="25.0" stroke-linejoin="round" opacity="1.0"/>
</g>
<g filter="url(#b4)">
<path d="M345.8,1144.9 C345.3,1144.0 345.3,1141.1 345.8,1140.3 C346.3,1139.4 343.4,1139.4 348.6,1139.7 C353.8,1140.0 367.9,1142.7 377.0,1142.1 C386.1,1141.5 397.0,1137.0 403.0,1136.2 C409.0,1135.4 411.3,1135.7 413.0,1137.2 C414.7,1138.8 414.7,1144.0 413.0,1145.6 C411.3,1147.1 409.0,1147.0 403.0,1146.6 C397.0,1146.2 386.1,1143.3 377.0,1143.1 C367.9,1142.9 353.8,1145.2 348.6,1145.5 C343.4,1145.8 346.3,1145.8 345.8,1144.9Z" fill="#000" stroke="#000" stroke-width="12.6" stroke-linejoin="round" opacity="0.92"/>
<path d="M458.0,1147.6 C457.7,1145.2 457.7,1137.6 458.0,1135.2 C458.3,1132.9 453.6,1134.9 459.8,1133.7 C466.0,1132.5 483.8,1128.2 495.2,1127.8 C506.6,1127.4 522.3,1130.5 528.3,1131.4 C534.3,1132.3 530.8,1130.6 531.3,1132.9 C531.8,1135.2 531.8,1142.9 531.3,1145.2 C530.8,1147.5 534.3,1146.2 528.3,1146.7 C522.3,1147.2 506.6,1147.5 495.2,1147.9 C483.8,1148.3 466.0,1149.2 459.8,1149.1 C453.6,1149.0 458.3,1149.9 458.0,1147.6Z" fill="#000" stroke="#000" stroke-width="14.8" stroke-linejoin="round" opacity="1.0"/>
<path d="M575.0,1142.9 C574.9,1140.6 574.9,1132.8 575.0,1130.5 C575.1,1128.2 570.0,1130.2 575.6,1129.0 C581.2,1127.8 597.7,1123.9 608.7,1123.1 C619.7,1122.3 635.2,1123.7 641.8,1124.3 C648.4,1124.9 647.2,1123.0 648.3,1126.9 C649.4,1130.8 649.4,1143.8 648.3,1147.7 C647.2,1151.6 648.4,1150.3 641.8,1150.3 C635.2,1150.3 619.7,1148.9 608.7,1147.9 C597.7,1146.9 581.2,1145.2 575.6,1144.4 C570.0,1143.6 575.1,1145.2 575.0,1142.9Z" fill="#000" stroke="#000" stroke-width="14.8" stroke-linejoin="round" opacity="1.0"/>
<path d="M684.9,1147.3 C684.6,1144.7 684.6,1135.8 684.9,1133.2 C685.2,1130.5 680.9,1132.5 686.7,1131.4 C692.5,1130.3 708.8,1127.0 719.8,1126.6 C730.8,1126.2 747.0,1128.3 753.0,1129.0 C759.0,1129.7 755.4,1128.0 755.9,1131.0 C756.4,1134.0 756.4,1144.1 755.9,1147.1 C755.4,1150.1 759.0,1149.4 753.0,1149.1 C747.0,1148.8 730.8,1145.5 719.8,1145.5 C708.8,1145.5 692.5,1148.8 686.7,1149.1 C680.9,1149.4 685.2,1150.0 684.9,1147.3Z" fill="#000" stroke="#000" stroke-width="14.8" stroke-linejoin="round" opacity="1.0"/>
</g>
</g>
<rect x="329.4" y="1099.1000000000001" width="466.2" height="90.49999999999996" fill="none" stroke="#1e1e1e" stroke-width="2.8"/>
<clipPath id="c8"><rect x="328" y="1210.5" width="469" height="92.70000000000005"/></clipPath>
<rect x="328" y="1210.5" width="469" height="92.70000000000005" fill="url(#gbg2)"/>
<g clip-path="url(#c8)">
<path d="M793.5,1232 L786.5,1300 L792.5,1300 L795,1232Z" fill="#fff" opacity="0.95" filter="url(#b1)"/>
<rect x="764" y="1212" width="18" height="90" fill="#fff" opacity="0.10" filter="url(#b3)"/>
<path d="M581,1272 L563,1301 L574,1301 L586,1272Z" fill="#fff" opacity="0.14" filter="url(#b3)"/>
<g filter="url(#b9)" opacity="0.30">
<path d="M348.0,1265.7 C347.9,1262.6 347.9,1252.5 348.0,1249.5 C348.1,1246.5 344.6,1248.4 348.6,1247.5 C352.7,1246.6 363.2,1243.7 372.3,1244.1 C381.4,1244.5 393.9,1248.4 403.0,1250.0 C412.1,1251.6 422.7,1252.7 426.7,1253.5 C430.7,1254.3 427.1,1252.9 427.2,1254.7 C427.3,1256.5 427.3,1262.4 427.2,1264.1 C427.1,1265.9 430.7,1264.1 426.7,1265.3 C422.7,1266.5 412.1,1269.6 403.0,1271.2 C393.9,1272.8 381.4,1275.4 372.3,1274.8 C363.2,1274.2 352.7,1269.2 348.6,1267.7 C344.6,1266.2 348.1,1268.7 348.0,1265.7Z" fill="#000" stroke="#000" stroke-width="25.0" stroke-linejoin="round" opacity="1.0"/>
<path d="M467.5,1257.3 C467.2,1255.8 467.2,1251.2 467.5,1249.7 C467.8,1248.3 463.8,1248.8 469.2,1248.8 C474.6,1248.8 489.8,1249.6 500.0,1250.0 C510.2,1250.4 525.3,1250.8 530.7,1251.1 C536.1,1251.4 532.2,1250.8 532.5,1251.7 C532.8,1252.6 532.8,1255.6 532.5,1256.5 C532.2,1257.4 536.1,1256.0 530.7,1257.1 C525.3,1258.2 510.2,1262.8 500.0,1263.0 C489.8,1263.2 474.6,1259.2 469.2,1258.2 C463.8,1257.2 467.8,1258.7 467.5,1257.3Z" fill="#000" stroke="#000" stroke-width="25.0" stroke-linejoin="round" opacity="1.0"/>
<path d="M591.5,1254.9 C591.1,1254.8 591.1,1254.2 591.5,1254.1 C591.9,1253.9 588.9,1254.0 594.0,1254.0 C599.1,1254.0 616.4,1254.2 622.0,1254.3 C627.6,1254.4 626.6,1254.2 627.5,1254.4 C628.4,1254.6 628.4,1255.2 627.5,1255.4 C626.6,1255.6 627.6,1255.6 622.0,1255.5 C616.4,1255.4 599.1,1255.1 594.0,1255.0 C588.9,1254.9 591.9,1255.1 591.5,1254.9Z" fill="#000" stroke="#000" stroke-width="25.0" stroke-linejoin="round" opacity="0.5"/>
<path d="M626.0,1254.3 C625.1,1254.0 625.1,1253.0 626.0,1252.7 C627.0,1252.5 628.0,1252.6 632.0,1252.5 C636.0,1252.5 646.3,1252.5 650.0,1252.5 C653.7,1252.6 653.5,1252.5 654.2,1252.6 C655.0,1252.8 655.0,1253.3 654.2,1253.5 C653.5,1253.6 653.7,1253.4 650.0,1253.5 C646.3,1253.7 636.0,1254.3 632.0,1254.5 C628.0,1254.6 627.0,1254.5 626.0,1254.3Z" fill="#000" stroke="#000" stroke-width="20.1" stroke-linejoin="round" opacity="0.3"/>
<path d="M728.0,1246.9 C727.7,1246.8 727.7,1246.2 728.0,1246.1 C728.3,1245.9 724.7,1246.2 730.0,1246.0 C735.3,1245.8 754.4,1244.9 760.0,1244.7 C765.6,1244.5 762.8,1244.6 763.4,1244.8 C764.0,1245.0 764.0,1245.7 763.4,1245.9 C762.8,1246.1 765.6,1245.8 760.0,1246.0 C754.4,1246.2 735.3,1246.8 730.0,1247.0 C724.7,1247.2 728.3,1247.1 728.0,1246.9Z" fill="#000" stroke="#000" stroke-width="24.0" stroke-linejoin="round" opacity="0.11"/>
</g>
<g filter="url(#b4)">
<path d="M348.0,1265.7 C347.9,1262.6 347.9,1252.5 348.0,1249.5 C348.1,1246.5 344.6,1248.4 348.6,1247.5 C352.7,1246.6 363.2,1243.7 372.3,1244.1 C381.4,1244.5 393.9,1248.4 403.0,1250.0 C412.1,1251.6 422.7,1252.7 426.7,1253.5 C430.7,1254.3 427.1,1252.9 427.2,1254.7 C427.3,1256.5 427.3,1262.4 427.2,1264.1 C427.1,1265.9 430.7,1264.1 426.7,1265.3 C422.7,1266.5 412.1,1269.6 403.0,1271.2 C393.9,1272.8 381.4,1275.4 372.3,1274.8 C363.2,1274.2 352.7,1269.2 348.6,1267.7 C344.6,1266.2 348.1,1268.7 348.0,1265.7Z" fill="#000" stroke="#000" stroke-width="14.8" stroke-linejoin="round" opacity="1.0"/>
<path d="M467.5,1257.3 C467.2,1255.8 467.2,1251.2 467.5,1249.7 C467.8,1248.3 463.8,1248.8 469.2,1248.8 C474.6,1248.8 489.8,1249.6 500.0,1250.0 C510.2,1250.4 525.3,1250.8 530.7,1251.1 C536.1,1251.4 532.2,1250.8 532.5,1251.7 C532.8,1252.6 532.8,1255.6 532.5,1256.5 C532.2,1257.4 536.1,1256.0 530.7,1257.1 C525.3,1258.2 510.2,1262.8 500.0,1263.0 C489.8,1263.2 474.6,1259.2 469.2,1258.2 C463.8,1257.2 467.8,1258.7 467.5,1257.3Z" fill="#000" stroke="#000" stroke-width="14.8" stroke-linejoin="round" opacity="1.0"/>
<path d="M591.5,1254.9 C591.1,1254.8 591.1,1254.2 591.5,1254.1 C591.9,1253.9 588.9,1254.0 594.0,1254.0 C599.1,1254.0 616.4,1254.2 622.0,1254.3 C627.6,1254.4 626.6,1254.2 627.5,1254.4 C628.4,1254.6 628.4,1255.2 627.5,1255.4 C626.6,1255.6 627.6,1255.6 622.0,1255.5 C616.4,1255.4 599.1,1255.1 594.0,1255.0 C588.9,1254.9 591.9,1255.1 591.5,1254.9Z" fill="#000" stroke="#000" stroke-width="14.8" stroke-linejoin="round" opacity="0.5"/>
<path d="M626.0,1254.3 C625.1,1254.0 625.1,1253.0 626.0,1252.7 C627.0,1252.5 628.0,1252.6 632.0,1252.5 C636.0,1252.5 646.3,1252.5 650.0,1252.5 C653.7,1252.6 653.5,1252.5 654.2,1252.6 C655.0,1252.8 655.0,1253.3 654.2,1253.5 C653.5,1253.6 653.7,1253.4 650.0,1253.5 C646.3,1253.7 636.0,1254.3 632.0,1254.5 C628.0,1254.6 627.0,1254.5 626.0,1254.3Z" fill="#000" stroke="#000" stroke-width="9.9" stroke-linejoin="round" opacity="0.3"/>
<path d="M728.0,1246.9 C727.7,1246.8 727.7,1246.2 728.0,1246.1 C728.3,1245.9 724.7,1246.2 730.0,1246.0 C735.3,1245.8 754.4,1244.9 760.0,1244.7 C765.6,1244.5 762.8,1244.6 763.4,1244.8 C764.0,1245.0 764.0,1245.7 763.4,1245.9 C762.8,1246.1 765.6,1245.8 760.0,1246.0 C754.4,1246.2 735.3,1246.8 730.0,1247.0 C724.7,1247.2 728.3,1247.1 728.0,1246.9Z" fill="#000" stroke="#000" stroke-width="13.8" stroke-linejoin="round" opacity="0.11"/>
</g>
</g>
<rect x="329.4" y="1211.9" width="466.2" height="89.90000000000005" fill="none" stroke="#1e1e1e" stroke-width="2.8"/>
<clipPath id="c9"><rect x="328" y="1323.3" width="469" height="92.40000000000009"/></clipPath>
<rect x="328" y="1323.3" width="469" height="92.40000000000009" fill="url(#gbg2)"/>
<g clip-path="url(#c9)">
<g filter="url(#b9)" opacity="0.30">
<path d="M350.5,1368.8 C350.4,1368.1 350.4,1365.7 350.5,1365.0 C350.6,1364.3 345.4,1365.1 351.0,1364.5 C356.6,1363.9 372.6,1361.7 384.0,1361.1 C395.4,1360.5 410.1,1361.1 419.6,1361.1 C429.1,1361.1 437.2,1361.0 440.8,1361.1 C444.4,1361.2 441.2,1360.9 441.3,1361.4 C441.4,1361.9 441.4,1363.7 441.3,1364.2 C441.2,1364.7 444.4,1362.7 440.8,1364.5 C437.2,1366.3 429.1,1372.8 419.6,1375.2 C410.1,1377.6 395.4,1379.8 384.0,1378.8 C372.6,1377.8 356.6,1371.0 351.0,1369.3 C345.4,1367.6 350.6,1369.5 350.5,1368.8Z" fill="#000" stroke="#000" stroke-width="25.0" stroke-linejoin="round" opacity="1.0"/>
<path d="M466.2,1364.3 C466.1,1363.9 466.1,1362.8 466.2,1362.4 C466.3,1362.1 460.4,1362.6 466.8,1362.2 C473.2,1361.8 491.7,1360.1 504.7,1359.9 C517.7,1359.7 537.8,1360.8 544.8,1361.1 C551.8,1361.4 546.2,1360.9 546.5,1361.4 C546.8,1361.9 546.8,1363.7 546.5,1364.2 C546.2,1364.7 551.8,1363.8 544.8,1364.5 C537.8,1365.2 517.7,1368.2 504.7,1368.2 C491.7,1368.2 473.2,1365.2 466.8,1364.5 C460.4,1363.8 466.3,1364.6 466.2,1364.3Z" fill="#000" stroke="#000" stroke-width="25.0" stroke-linejoin="round" opacity="1.0"/>
<path d="M576.6,1361.5 C576.0,1361.3 576.0,1360.8 576.6,1360.7 C577.2,1360.5 575.7,1360.0 580.3,1360.6 C584.9,1361.2 595.7,1363.7 604.0,1364.1 C612.3,1364.5 621.7,1363.1 630.0,1362.9 C638.3,1362.7 649.5,1362.8 653.6,1362.9 C657.7,1363.0 654.5,1362.6 654.7,1363.6 C654.9,1364.7 654.9,1368.2 654.7,1369.2 C654.5,1370.2 657.7,1369.2 653.6,1369.9 C649.5,1370.6 638.3,1373.6 630.0,1373.4 C621.7,1373.2 612.3,1370.7 604.0,1368.7 C595.7,1366.7 584.9,1362.8 580.3,1361.6 C575.7,1360.4 577.2,1361.7 576.6,1361.5Z" fill="#000" stroke="#000" stroke-width="19.2" stroke-linejoin="round" opacity="1.0"/>
<path d="M691.0,1365.2 C690.4,1365.0 690.4,1364.5 691.0,1364.3 C691.5,1364.2 690.2,1364.3 694.0,1364.2 C697.8,1364.2 710.0,1363.9 714.0,1363.8 C718.0,1363.8 717.1,1363.8 717.8,1364.0 C718.4,1364.3 718.4,1365.3 717.8,1365.6 C717.1,1365.8 718.0,1365.8 714.0,1365.8 C710.0,1365.7 697.8,1365.3 694.0,1365.2 C690.2,1365.2 691.5,1365.3 691.0,1365.2Z" fill="#000" stroke="#000" stroke-width="20.5" stroke-linejoin="round" opacity="0.45"/>
<path d="M721.6,1367.5 C720.0,1366.6 720.0,1363.7 721.6,1362.8 C723.3,1362.0 727.2,1361.9 731.6,1362.2 C736.0,1362.6 743.1,1364.9 748.2,1364.8 C753.3,1364.6 758.8,1361.7 762.4,1361.2 C766.0,1360.8 768.7,1360.9 770.0,1361.9 C771.2,1363.0 771.2,1366.4 770.0,1367.4 C768.7,1368.4 766.0,1368.3 762.4,1368.0 C758.8,1367.8 753.3,1365.8 748.2,1365.8 C743.1,1365.8 736.0,1367.8 731.6,1368.0 C727.2,1368.3 723.3,1368.3 721.6,1367.5Z" fill="#000" stroke="#000" stroke-width="20.5" stroke-linejoin="round" opacity="1.0"/>
</g>
<g filter="url(#b3)">
<path d="M350.5,1368.8 C350.4,1368.1 350.4,1365.7 350.5,1365.0 C350.6,1364.3 345.4,1365.1 351.0,1364.5 C356.6,1363.9 372.6,1361.7 384.0,1361.1 C395.4,1360.5 410.1,1361.1 419.6,1361.1 C429.1,1361.1 437.2,1361.0 440.8,1361.1 C444.4,1361.2 441.2,1360.9 441.3,1361.4 C441.4,1361.9 441.4,1363.7 441.3,1364.2 C441.2,1364.7 444.4,1362.7 440.8,1364.5 C437.2,1366.3 429.1,1372.8 419.6,1375.2 C410.1,1377.6 395.4,1379.8 384.0,1378.8 C372.6,1377.8 356.6,1371.0 351.0,1369.3 C345.4,1367.6 350.6,1369.5 350.5,1368.8Z" fill="#000" stroke="#000" stroke-width="14.8" stroke-linejoin="round" opacity="1.0"/>
<path d="M466.2,1364.3 C466.1,1363.9 466.1,1362.8 466.2,1362.4 C466.3,1362.1 460.4,1362.6 466.8,1362.2 C473.2,1361.8 491.7,1360.1 504.7,1359.9 C517.7,1359.7 537.8,1360.8 544.8,1361.1 C551.8,1361.4 546.2,1360.9 546.5,1361.4 C546.8,1361.9 546.8,1363.7 546.5,1364.2 C546.2,1364.7 551.8,1363.8 544.8,1364.5 C537.8,1365.2 517.7,1368.2 504.7,1368.2 C491.7,1368.2 473.2,1365.2 466.8,1364.5 C460.4,1363.8 466.3,1364.6 466.2,1364.3Z" fill="#000" stroke="#000" stroke-width="14.8" stroke-linejoin="round" opacity="1.0"/>
<path d="M576.6,1361.5 C576.0,1361.3 576.0,1360.8 576.6,1360.7 C577.2,1360.5 575.7,1360.0 580.3,1360.6 C584.9,1361.2 595.7,1363.7 604.0,1364.1 C612.3,1364.5 621.7,1363.1 630.0,1362.9 C638.3,1362.7 649.5,1362.8 653.6,1362.9 C657.7,1363.0 654.5,1362.6 654.7,1363.6 C654.9,1364.7 654.9,1368.2 654.7,1369.2 C654.5,1370.2 657.7,1369.2 653.6,1369.9 C649.5,1370.6 638.3,1373.6 630.0,1373.4 C621.7,1373.2 612.3,1370.7 604.0,1368.7 C595.7,1366.7 584.9,1362.8 580.3,1361.6 C575.7,1360.4 577.2,1361.7 576.6,1361.5Z" fill="#000" stroke="#000" stroke-width="9.0" stroke-linejoin="round" opacity="1.0"/>
<path d="M691.0,1365.2 C690.4,1365.0 690.4,1364.5 691.0,1364.3 C691.5,1364.2 690.2,1364.3 694.0,1364.2 C697.8,1364.2 710.0,1363.9 714.0,1363.8 C718.0,1363.8 717.1,1363.8 717.8,1364.0 C718.4,1364.3 718.4,1365.3 717.8,1365.6 C717.1,1365.8 718.0,1365.8 714.0,1365.8 C710.0,1365.7 697.8,1365.3 694.0,1365.2 C690.2,1365.2 691.5,1365.3 691.0,1365.2Z" fill="#000" stroke="#000" stroke-width="10.3" stroke-linejoin="round" opacity="0.45"/>
<path d="M721.6,1367.5 C720.0,1366.6 720.0,1363.7 721.6,1362.8 C723.3,1362.0 727.2,1361.9 731.6,1362.2 C736.0,1362.6 743.1,1364.9 748.2,1364.8 C753.3,1364.6 758.8,1361.7 762.4,1361.2 C766.0,1360.8 768.7,1360.9 770.0,1361.9 C771.2,1363.0 771.2,1366.4 770.0,1367.4 C768.7,1368.4 766.0,1368.3 762.4,1368.0 C758.8,1367.8 753.3,1365.8 748.2,1365.8 C743.1,1365.8 736.0,1367.8 731.6,1368.0 C727.2,1368.3 723.3,1368.3 721.6,1367.5Z" fill="#000" stroke="#000" stroke-width="10.3" stroke-linejoin="round" opacity="1.0"/>
</g>
</g>
<rect x="329.4" y="1324.7" width="466.2" height="89.6000000000001" fill="none" stroke="#1e1e1e" stroke-width="2.8"/>
<clipPath id="c10"><rect x="328" y="1436.5" width="469" height="91.70000000000005"/></clipPath>
<rect x="328" y="1436.5" width="469" height="91.70000000000005" fill="url(#gbg2)"/>
<g clip-path="url(#c10)">
<g filter="url(#b9)" opacity="0.30">
<path d="M350.5,1478.4 C350.4,1477.3 350.4,1473.8 350.5,1472.7 C350.6,1471.6 346.6,1472.3 351.0,1472.0 C355.4,1471.7 367.9,1471.2 377.0,1470.8 C386.1,1470.4 397.1,1469.3 405.4,1469.5 C413.7,1469.7 423.1,1471.5 426.7,1472.0 C430.3,1472.5 427.1,1471.9 427.2,1472.2 C427.3,1472.6 427.3,1473.7 427.2,1474.1 C427.1,1474.4 430.3,1472.9 426.7,1474.3 C423.1,1475.7 413.7,1481.7 405.4,1482.5 C397.1,1483.3 386.1,1479.7 377.0,1479.1 C367.9,1478.5 355.4,1479.2 351.0,1479.1 C346.6,1479.0 350.6,1479.5 350.5,1478.4Z" fill="#000" stroke="#000" stroke-width="25.0" stroke-linejoin="round" opacity="1.0"/>
<path d="M446.3,1473.0 C445.6,1472.8 445.6,1472.3 446.3,1472.1 C446.9,1472.0 445.3,1472.2 450.3,1472.0 C455.3,1471.8 465.7,1471.5 476.3,1471.0 C486.9,1470.4 503.8,1468.1 514.0,1468.5 C524.2,1468.8 533.8,1472.3 537.8,1473.2 C541.8,1474.2 538.2,1472.8 538.3,1474.0 C538.4,1475.2 538.4,1479.2 538.3,1480.5 C538.2,1481.7 541.8,1479.7 537.8,1481.2 C533.8,1482.8 524.2,1488.8 514.0,1489.5 C503.8,1490.3 486.9,1488.8 476.3,1486.0 C465.7,1483.3 455.3,1475.2 450.3,1473.0 C445.3,1470.9 446.9,1473.1 446.3,1473.0Z" fill="#000" stroke="#000" stroke-width="22.9" stroke-linejoin="round" opacity="1.0"/>
<path d="M565.5,1477.7 C565.4,1477.3 565.4,1476.1 565.5,1475.7 C565.6,1475.4 560.8,1475.7 566.0,1475.5 C571.2,1475.3 585.9,1474.7 596.9,1474.3 C607.9,1473.9 623.6,1473.3 632.3,1473.1 C641.0,1472.9 646.0,1473.0 648.9,1473.1 C651.8,1473.2 649.3,1472.8 649.4,1473.7 C649.5,1474.6 649.5,1477.6 649.4,1478.5 C649.3,1479.4 651.8,1477.6 648.9,1479.1 C646.0,1480.6 641.0,1486.1 632.3,1487.3 C623.6,1488.5 607.9,1487.7 596.9,1486.1 C585.9,1484.5 571.2,1479.3 566.0,1477.9 C560.8,1476.5 565.6,1478.0 565.5,1477.7Z" fill="#000" stroke="#000" stroke-width="25.0" stroke-linejoin="round" opacity="1.0"/>
<path d="M675.5,1477.3 C675.2,1476.4 675.2,1473.5 675.5,1472.6 C675.8,1471.7 672.6,1471.9 677.2,1472.0 C681.8,1472.1 692.7,1473.9 703.3,1473.1 C713.9,1472.3 732.3,1468.0 741.0,1467.2 C749.7,1466.4 752.8,1468.2 755.3,1468.5 C757.8,1468.8 755.7,1468.2 755.8,1469.1 C755.9,1470.0 755.9,1472.9 755.8,1473.7 C755.7,1474.6 757.8,1473.2 755.3,1474.3 C752.8,1475.4 749.7,1479.0 741.0,1480.2 C732.3,1481.4 713.9,1481.9 703.3,1481.5 C692.7,1481.1 681.8,1478.6 677.2,1477.9 C672.6,1477.2 675.8,1478.2 675.5,1477.3Z" fill="#000" stroke="#000" stroke-width="25.0" stroke-linejoin="round" opacity="1.0"/>
</g>
<g filter="url(#b3)">
<path d="M350.5,1478.4 C350.4,1477.3 350.4,1473.8 350.5,1472.7 C350.6,1471.6 346.6,1472.3 351.0,1472.0 C355.4,1471.7 367.9,1471.2 377.0,1470.8 C386.1,1470.4 397.1,1469.3 405.4,1469.5 C413.7,1469.7 423.1,1471.5 426.7,1472.0 C430.3,1472.5 427.1,1471.9 427.2,1472.2 C427.3,1472.6 427.3,1473.7 427.2,1474.1 C427.1,1474.4 430.3,1472.9 426.7,1474.3 C423.1,1475.7 413.7,1481.7 405.4,1482.5 C397.1,1483.3 386.1,1479.7 377.0,1479.1 C367.9,1478.5 355.4,1479.2 351.0,1479.1 C346.6,1479.0 350.6,1479.5 350.5,1478.4Z" fill="#000" stroke="#000" stroke-width="14.8" stroke-linejoin="round" opacity="1.0"/>
<path d="M446.3,1473.0 C445.6,1472.8 445.6,1472.3 446.3,1472.1 C446.9,1472.0 445.3,1472.2 450.3,1472.0 C455.3,1471.8 465.7,1471.5 476.3,1471.0 C486.9,1470.4 503.8,1468.1 514.0,1468.5 C524.2,1468.8 533.8,1472.3 537.8,1473.2 C541.8,1474.2 538.2,1472.8 538.3,1474.0 C538.4,1475.2 538.4,1479.2 538.3,1480.5 C538.2,1481.7 541.8,1479.7 537.8,1481.2 C533.8,1482.8 524.2,1488.8 514.0,1489.5 C503.8,1490.3 486.9,1488.8 476.3,1486.0 C465.7,1483.3 455.3,1475.2 450.3,1473.0 C445.3,1470.9 446.9,1473.1 446.3,1473.0Z" fill="#000" stroke="#000" stroke-width="12.7" stroke-linejoin="round" opacity="1.0"/>
<path d="M565.5,1477.7 C565.4,1477.3 565.4,1476.1 565.5,1475.7 C565.6,1475.4 560.8,1475.7 566.0,1475.5 C571.2,1475.3 585.9,1474.7 596.9,1474.3 C607.9,1473.9 623.6,1473.3 632.3,1473.1 C641.0,1472.9 646.0,1473.0 648.9,1473.1 C651.8,1473.2 649.3,1472.8 649.4,1473.7 C649.5,1474.6 649.5,1477.6 649.4,1478.5 C649.3,1479.4 651.8,1477.6 648.9,1479.1 C646.0,1480.6 641.0,1486.1 632.3,1487.3 C623.6,1488.5 607.9,1487.7 596.9,1486.1 C585.9,1484.5 571.2,1479.3 566.0,1477.9 C560.8,1476.5 565.6,1478.0 565.5,1477.7Z" fill="#000" stroke="#000" stroke-width="14.8" stroke-linejoin="round" opacity="1.0"/>
<path d="M675.5,1477.3 C675.2,1476.4 675.2,1473.5 675.5,1472.6 C675.8,1471.7 672.6,1471.9 677.2,1472.0 C681.8,1472.1 692.7,1473.9 703.3,1473.1 C713.9,1472.3 732.3,1468.0 741.0,1467.2 C749.7,1466.4 752.8,1468.2 755.3,1468.5 C757.8,1468.8 755.7,1468.2 755.8,1469.1 C755.9,1470.0 755.9,1472.9 755.8,1473.7 C755.7,1474.6 757.8,1473.2 755.3,1474.3 C752.8,1475.4 749.7,1479.0 741.0,1480.2 C732.3,1481.4 713.9,1481.9 703.3,1481.5 C692.7,1481.1 681.8,1478.6 677.2,1477.9 C672.6,1477.2 675.8,1478.2 675.5,1477.3Z" fill="#000" stroke="#000" stroke-width="14.8" stroke-linejoin="round" opacity="1.0"/>
</g>
</g>
<rect x="329.4" y="1437.9" width="466.2" height="88.90000000000005" fill="none" stroke="#1e1e1e" stroke-width="2.8"/>
<text class="sb_" transform="translate(14.11,136.20) scale(0.9909,1)" font-size="49.50" fill="#000">VPA (mmol/l)</text>
<text class="sb_" transform="translate(367.98,136.20) scale(1.0197,1)" font-size="49.50" fill="#000">0</text>
<text class="sb_" transform="translate(468.05,136.20) scale(0.9966,1)" font-size="49.50" fill="#000">1.2</text>
<text class="sb_" transform="translate(585.53,136.20) scale(0.9965,1)" font-size="49.50" fill="#000">2.4</text>
<text class="sb_" transform="translate(722.17,136.20) scale(1.0267,1)" font-size="49.50" fill="#000">5</text>
<text class="sb_" transform="translate(204.04,215.00) scale(0.9664,1)" font-size="49.50" fill="#000">N-ca</text>
<text class="sb_" transform="translate(199.29,324.50) scale(0.9600,1)" font-size="49.50" fill="#000">E-ca</text>
<text class="sb_" transform="translate(156.70,422.50) scale(0.9730,1)" font-size="43.00" fill="#000">SMAD4</text>
<text class="sb_" transform="translate(212.06,547.80) scale(0.8960,1)" font-size="49.50" fill="#000">Vim</text>
<text class="sb_" transform="translate(153.29,672.50) scale(0.9962,1)" font-size="49.50" fill="#000">β-actin</text>
<text class="sb_" transform="translate(119.26,976.00) scale(0.9989,1)" font-size="49.50" fill="#000">Time (h)</text>
<text class="sb_" transform="translate(367.98,976.00) scale(1.0197,1)" font-size="49.50" fill="#000">0</text>
<text class="sb_" transform="translate(474.07,976.00) scale(0.9928,1)" font-size="49.50" fill="#000">12</text>
<text class="sb_" transform="translate(592.04,976.00) scale(0.9886,1)" font-size="49.50" fill="#000">24</text>
<text class="sb_" transform="translate(711.26,976.00) scale(0.9995,1)" font-size="49.50" fill="#000">48</text>
<text class="sb_" transform="translate(205.05,1051.50) scale(0.9561,1)" font-size="49.50" fill="#000">N-ca</text>
<text class="sb_" transform="translate(209.29,1165.00) scale(0.9600,1)" font-size="49.50" fill="#000">E-ca</text>
<text class="sb_" transform="translate(161.70,1267.50) scale(0.9730,1)" font-size="43.00" fill="#000">SMAD4</text>
<text class="sb_" transform="translate(214.56,1385.00) scale(0.8903,1)" font-size="49.50" fill="#000">Vim</text>
<text class="sb_" transform="translate(153.29,1510.00) scale(0.9962,1)" font-size="49.50" fill="#000">β-actin</text>
<path d="M1112.50,737.50 L1112.50,470.50 Q1112.50,466.00 1117.00,466.00 L1149.25,466.00 Q1153.75,466.00 1153.75,470.50 L1153.75,737.50 Z" fill="#000000"/>
<line x1="1133.12" y1="460.50" x2="1133.12" y2="470.00" stroke="#2c2c2c" stroke-width="2.0" stroke-linecap="butt"/>
<line x1="1125.03" y1="460.50" x2="1141.22" y2="460.50" stroke="#2c2c2c" stroke-width="2.3" stroke-linecap="butt"/>
<path d="M1161.00,737.50 L1161.00,495.50 Q1161.00,491.00 1165.50,491.00 L1198.50,491.00 Q1203.00,491.00 1203.00,495.50 L1203.00,737.50 Z" fill="#8d8d8d"/>
<line x1="1182.00" y1="481.00" x2="1182.00" y2="495.00" stroke="#2c2c2c" stroke-width="2.0" stroke-linecap="butt"/>
<line x1="1173.90" y1="481.00" x2="1190.10" y2="481.00" stroke="#2c2c2c" stroke-width="2.3" stroke-linecap="butt"/>
<path d="M1210.50,737.50 L1210.50,559.50 Q1210.50,555.00 1215.00,555.00 L1247.50,555.00 Q1252.00,555.00 1252.00,559.50 L1252.00,737.50 Z" fill="#6b6b6b"/>
<line x1="1231.25" y1="550.75" x2="1231.25" y2="559.00" stroke="#2c2c2c" stroke-width="2.0" stroke-linecap="butt"/>
<line x1="1223.15" y1="550.75" x2="1239.35" y2="550.75" stroke="#2c2c2c" stroke-width="2.3" stroke-linecap="butt"/>
<path d="M1259.50,737.50 L1259.50,597.00 Q1259.50,592.50 1264.00,592.50 L1296.25,592.50 Q1300.75,592.50 1300.75,597.00 L1300.75,737.50 Z" fill="#c7c7c7"/>
<line x1="1280.12" y1="579.00" x2="1280.12" y2="596.50" stroke="#2c2c2c" stroke-width="2.0" stroke-linecap="butt"/>
<line x1="1272.03" y1="579.00" x2="1288.22" y2="579.00" stroke="#2c2c2c" stroke-width="2.3" stroke-linecap="butt"/>
<path d="M1342.00,737.50 L1342.00,663.25 Q1342.00,658.75 1346.50,658.75 L1378.50,658.75 Q1383.00,658.75 1383.00,663.25 L1383.00,737.50 Z" fill="#000000"/>
<line x1="1362.50" y1="640.75" x2="1362.50" y2="662.75" stroke="#2c2c2c" stroke-width="2.0" stroke-linecap="butt"/>
<line x1="1354.40" y1="640.75" x2="1370.60" y2="640.75" stroke="#2c2c2c" stroke-width="2.3" stroke-linecap="butt"/>
<path d="M1390.75,737.50 L1390.75,575.50 Q1390.75,571.00 1395.25,571.00 L1427.50,571.00 Q1432.00,571.00 1432.00,575.50 L1432.00,737.50 Z" fill="#8d8d8d"/>
<line x1="1411.38" y1="565.00" x2="1411.38" y2="575.00" stroke="#2c2c2c" stroke-width="2.0" stroke-linecap="butt"/>
<line x1="1403.28" y1="565.00" x2="1419.47" y2="565.00" stroke="#2c2c2c" stroke-width="2.3" stroke-linecap="butt"/>
<path d="M1440.50,737.50 L1440.50,544.50 Q1440.50,540.00 1445.00,540.00 L1477.25,540.00 Q1481.75,540.00 1481.75,544.50 L1481.75,737.50 Z" fill="#6b6b6b"/>
<line x1="1461.12" y1="533.75" x2="1461.12" y2="544.00" stroke="#2c2c2c" stroke-width="2.0" stroke-linecap="butt"/>
<line x1="1453.03" y1="533.75" x2="1469.22" y2="533.75" stroke="#2c2c2c" stroke-width="2.3" stroke-linecap="butt"/>
<path d="M1490.00,737.50 L1490.00,363.25 Q1490.00,358.75 1494.50,358.75 L1526.00,358.75 Q1530.50,358.75 1530.50,363.25 L1530.50,737.50 Z" fill="#c7c7c7"/>
<line x1="1510.25" y1="322.00" x2="1510.25" y2="362.75" stroke="#2c2c2c" stroke-width="2.0" stroke-linecap="butt"/>
<line x1="1502.15" y1="322.00" x2="1518.35" y2="322.00" stroke="#2c2c2c" stroke-width="2.3" stroke-linecap="butt"/>
<path d="M1572.00,737.50 L1572.00,324.00 Q1572.00,319.50 1576.50,319.50 L1608.75,319.50 Q1613.25,319.50 1613.25,324.00 L1613.25,737.50 Z" fill="#000000"/>
<line x1="1592.62" y1="277.50" x2="1592.62" y2="323.50" stroke="#2c2c2c" stroke-width="2.0" stroke-linecap="butt"/>
<line x1="1584.53" y1="277.50" x2="1600.72" y2="277.50" stroke="#2c2c2c" stroke-width="2.3" stroke-linecap="butt"/>
<path d="M1620.75,737.50 L1620.75,457.00 Q1620.75,452.50 1625.25,452.50 L1657.50,452.50 Q1662.00,452.50 1662.00,457.00 L1662.00,737.50 Z" fill="#8d8d8d"/>
<line x1="1641.38" y1="442.00" x2="1641.38" y2="456.50" stroke="#2c2c2c" stroke-width="2.0" stroke-linecap="butt"/>
<line x1="1633.28" y1="442.00" x2="1649.47" y2="442.00" stroke="#2c2c2c" stroke-width="2.3" stroke-linecap="butt"/>
<path d="M1669.50,737.50 L1669.50,573.50 Q1669.50,569.00 1674.00,569.00 L1706.25,569.00 Q1710.75,569.00 1710.75,573.50 L1710.75,737.50 Z" fill="#6b6b6b"/>
<line x1="1690.12" y1="555.75" x2="1690.12" y2="573.00" stroke="#2c2c2c" stroke-width="2.0" stroke-linecap="butt"/>
<line x1="1682.03" y1="555.75" x2="1698.22" y2="555.75" stroke="#2c2c2c" stroke-width="2.3" stroke-linecap="butt"/>
<path d="M1719.25,737.50 L1719.25,616.50 Q1719.25,612.00 1723.75,612.00 L1755.50,612.00 Q1760.00,612.00 1760.00,616.50 L1760.00,737.50 Z" fill="#c7c7c7"/>
<line x1="1739.62" y1="599.25" x2="1739.62" y2="616.00" stroke="#2c2c2c" stroke-width="2.0" stroke-linecap="butt"/>
<line x1="1731.53" y1="599.25" x2="1747.72" y2="599.25" stroke="#2c2c2c" stroke-width="2.3" stroke-linecap="butt"/>
<path d="M1800.50,737.50 L1800.50,632.00 Q1800.50,627.50 1805.00,627.50 L1837.25,627.50 Q1841.75,627.50 1841.75,632.00 L1841.75,737.50 Z" fill="#000000"/>
<line x1="1821.12" y1="622.50" x2="1821.12" y2="631.50" stroke="#2c2c2c" stroke-width="2.0" stroke-linecap="butt"/>
<line x1="1813.03" y1="622.50" x2="1829.22" y2="622.50" stroke="#2c2c2c" stroke-width="2.3" stroke-linecap="butt"/>
<path d="M1849.75,737.50 L1849.75,641.50 Q1849.75,637.00 1854.25,637.00 L1886.75,637.00 Q1891.25,637.00 1891.25,641.50 L1891.25,737.50 Z" fill="#8d8d8d"/>
<line x1="1870.50" y1="631.25" x2="1870.50" y2="641.00" stroke="#2c2c2c" stroke-width="2.0" stroke-linecap="butt"/>
<line x1="1862.40" y1="631.25" x2="1878.60" y2="631.25" stroke="#2c2c2c" stroke-width="2.3" stroke-linecap="butt"/>
<path d="M1899.25,737.50 L1899.25,659.50 Q1899.25,655.00 1903.75,655.00 L1936.00,655.00 Q1940.50,655.00 1940.50,659.50 L1940.50,737.50 Z" fill="#6b6b6b"/>
<line x1="1919.88" y1="650.00" x2="1919.88" y2="659.00" stroke="#2c2c2c" stroke-width="2.0" stroke-linecap="butt"/>
<line x1="1911.78" y1="650.00" x2="1927.97" y2="650.00" stroke="#2c2c2c" stroke-width="2.3" stroke-linecap="butt"/>
<path d="M1948.50,737.50 L1948.50,673.25 Q1948.50,668.75 1953.00,668.75 L1985.00,668.75 Q1989.50,668.75 1989.50,673.25 L1989.50,737.50 Z" fill="#c7c7c7"/>
<line x1="1969.00" y1="668.00" x2="1969.00" y2="672.75" stroke="#2c2c2c" stroke-width="2.0" stroke-linecap="butt"/>
<line x1="1960.90" y1="668.00" x2="1977.10" y2="668.00" stroke="#2c2c2c" stroke-width="2.3" stroke-linecap="butt"/>
<line x1="1092.20" y1="122.30" x2="1092.20" y2="740.50" stroke="#000" stroke-width="6" stroke-linecap="butt"/>
<line x1="1075.75" y1="737.50" x2="2013.50" y2="737.50" stroke="#000" stroke-width="6" stroke-linecap="butt"/>
<line x1="1075.75" y1="125.00" x2="1092.20" y2="125.00" stroke="#000" stroke-width="5.5" stroke-linecap="butt"/>
<line x1="1075.75" y1="329.30" x2="1092.20" y2="329.30" stroke="#000" stroke-width="5.5" stroke-linecap="butt"/>
<line x1="1075.75" y1="533.00" x2="1092.20" y2="533.00" stroke="#000" stroke-width="5.5" stroke-linecap="butt"/>
<line x1="1206.00" y1="737.50" x2="1206.00" y2="754.80" stroke="#000" stroke-width="6" stroke-linecap="butt"/>
<line x1="1436.00" y1="737.50" x2="1436.00" y2="754.80" stroke="#000" stroke-width="6" stroke-linecap="butt"/>
<line x1="1665.40" y1="737.50" x2="1665.40" y2="754.80" stroke="#000" stroke-width="6" stroke-linecap="butt"/>
<line x1="1894.00" y1="737.50" x2="1894.00" y2="754.80" stroke="#000" stroke-width="6" stroke-linecap="butt"/>
<path d="M1122.50,1568.60 L1122.50,1408.25 Q1122.50,1403.75 1127.00,1403.75 L1158.75,1403.75 Q1163.25,1403.75 1163.25,1408.25 L1163.25,1568.60 Z" fill="#000000"/>
<line x1="1142.88" y1="1398.50" x2="1142.88" y2="1407.75" stroke="#2c2c2c" stroke-width="2.0" stroke-linecap="butt"/>
<line x1="1134.78" y1="1398.50" x2="1150.97" y2="1398.50" stroke="#2c2c2c" stroke-width="2.3" stroke-linecap="butt"/>
<path d="M1171.25,1568.60 L1171.25,1478.75 Q1171.25,1474.25 1175.75,1474.25 L1207.25,1474.25 Q1211.75,1474.25 1211.75,1478.75 L1211.75,1568.60 Z" fill="#8d8d8d"/>
<line x1="1191.50" y1="1473.50" x2="1191.50" y2="1478.25" stroke="#2c2c2c" stroke-width="2.0" stroke-linecap="butt"/>
<line x1="1183.40" y1="1473.50" x2="1199.60" y2="1473.50" stroke="#2c2c2c" stroke-width="2.3" stroke-linecap="butt"/>
<path d="M1220.00,1568.60 L1220.00,1526.25 Q1220.00,1521.75 1224.50,1521.75 L1256.25,1521.75 Q1260.75,1521.75 1260.75,1526.25 L1260.75,1568.60 Z" fill="#6b6b6b"/>
<line x1="1240.38" y1="1515.50" x2="1240.38" y2="1525.75" stroke="#2c2c2c" stroke-width="2.0" stroke-linecap="butt"/>
<line x1="1232.28" y1="1515.50" x2="1248.47" y2="1515.50" stroke="#2c2c2c" stroke-width="2.3" stroke-linecap="butt"/>
<path d="M1268.25,1568.60 L1268.25,1546.25 Q1268.25,1541.75 1272.75,1541.75 L1304.75,1541.75 Q1309.25,1541.75 1309.25,1546.25 L1309.25,1568.60 Z" fill="#c7c7c7"/>
<line x1="1288.75" y1="1545.00" x2="1288.75" y2="1546.00" stroke="#2c2c2c" stroke-width="2.0" stroke-linecap="butt"/>
<line x1="1280.65" y1="1545.00" x2="1296.85" y2="1545.00" stroke="#2c2c2c" stroke-width="2.3" stroke-linecap="butt"/>
<path d="M1350.00,1568.60 L1350.00,1461.75 Q1350.00,1457.25 1354.50,1457.25 L1386.25,1457.25 Q1390.75,1457.25 1390.75,1461.75 L1390.75,1568.60 Z" fill="#000000"/>
<line x1="1370.38" y1="1451.00" x2="1370.38" y2="1461.25" stroke="#2c2c2c" stroke-width="2.0" stroke-linecap="butt"/>
<line x1="1362.28" y1="1451.00" x2="1378.47" y2="1451.00" stroke="#2c2c2c" stroke-width="2.3" stroke-linecap="butt"/>
<path d="M1398.25,1568.60 L1398.25,1331.75 Q1398.25,1327.25 1402.75,1327.25 L1434.25,1327.25 Q1438.75,1327.25 1438.75,1331.75 L1438.75,1568.60 Z" fill="#8d8d8d"/>
<line x1="1418.50" y1="1319.25" x2="1418.50" y2="1331.25" stroke="#2c2c2c" stroke-width="2.0" stroke-linecap="butt"/>
<line x1="1410.40" y1="1319.25" x2="1426.60" y2="1319.25" stroke="#2c2c2c" stroke-width="2.3" stroke-linecap="butt"/>
<path d="M1447.50,1568.60 L1447.50,1265.75 Q1447.50,1261.25 1452.00,1261.25 L1483.50,1261.25 Q1488.00,1261.25 1488.00,1265.75 L1488.00,1568.60 Z" fill="#6b6b6b"/>
<line x1="1467.75" y1="1248.00" x2="1467.75" y2="1265.25" stroke="#2c2c2c" stroke-width="2.0" stroke-linecap="butt"/>
<line x1="1459.65" y1="1248.00" x2="1475.85" y2="1248.00" stroke="#2c2c2c" stroke-width="2.3" stroke-linecap="butt"/>
<path d="M1495.75,1568.60 L1495.75,1195.25 Q1495.75,1190.75 1500.25,1190.75 L1531.75,1190.75 Q1536.25,1190.75 1536.25,1195.25 L1536.25,1568.60 Z" fill="#c7c7c7"/>
<line x1="1516.00" y1="1181.30" x2="1516.00" y2="1194.75" stroke="#2c2c2c" stroke-width="2.0" stroke-linecap="butt"/>
<line x1="1507.90" y1="1181.30" x2="1524.10" y2="1181.30" stroke="#2c2c2c" stroke-width="2.3" stroke-linecap="butt"/>
<path d="M1577.00,1568.60 L1577.00,1292.00 Q1577.00,1287.50 1581.50,1287.50 L1613.25,1287.50 Q1617.75,1287.50 1617.75,1292.00 L1617.75,1568.60 Z" fill="#000000"/>
<line x1="1597.38" y1="1276.75" x2="1597.38" y2="1291.50" stroke="#2c2c2c" stroke-width="2.0" stroke-linecap="butt"/>
<line x1="1589.28" y1="1276.75" x2="1605.47" y2="1276.75" stroke="#2c2c2c" stroke-width="2.3" stroke-linecap="butt"/>
<path d="M1625.75,1568.60 L1625.75,1343.25 Q1625.75,1338.75 1630.25,1338.75 L1661.75,1338.75 Q1666.25,1338.75 1666.25,1343.25 L1666.25,1568.60 Z" fill="#8d8d8d"/>
<line x1="1646.00" y1="1328.50" x2="1646.00" y2="1342.75" stroke="#2c2c2c" stroke-width="2.0" stroke-linecap="butt"/>
<line x1="1637.90" y1="1328.50" x2="1654.10" y2="1328.50" stroke="#2c2c2c" stroke-width="2.3" stroke-linecap="butt"/>
<path d="M1674.25,1568.60 L1674.25,1410.75 Q1674.25,1406.25 1678.75,1406.25 L1710.50,1406.25 Q1715.00,1406.25 1715.00,1410.75 L1715.00,1568.60 Z" fill="#6b6b6b"/>
<line x1="1694.62" y1="1390.50" x2="1694.62" y2="1410.25" stroke="#2c2c2c" stroke-width="2.0" stroke-linecap="butt"/>
<line x1="1686.53" y1="1390.50" x2="1702.72" y2="1390.50" stroke="#2c2c2c" stroke-width="2.3" stroke-linecap="butt"/>
<path d="M1722.50,1568.60 L1722.50,1485.75 Q1722.50,1481.25 1727.00,1481.25 L1758.75,1481.25 Q1763.25,1481.25 1763.25,1485.75 L1763.25,1568.60 Z" fill="#c7c7c7"/>
<line x1="1742.88" y1="1476.75" x2="1742.88" y2="1485.25" stroke="#2c2c2c" stroke-width="2.0" stroke-linecap="butt"/>
<line x1="1734.78" y1="1476.75" x2="1750.97" y2="1476.75" stroke="#2c2c2c" stroke-width="2.3" stroke-linecap="butt"/>
<path d="M1803.50,1568.60 L1803.50,1381.25 Q1803.50,1376.75 1808.00,1376.75 L1840.25,1376.75 Q1844.75,1376.75 1844.75,1381.25 L1844.75,1568.60 Z" fill="#000000"/>
<line x1="1824.12" y1="1366.75" x2="1824.12" y2="1380.75" stroke="#2c2c2c" stroke-width="2.0" stroke-linecap="butt"/>
<line x1="1816.03" y1="1366.75" x2="1832.22" y2="1366.75" stroke="#2c2c2c" stroke-width="2.3" stroke-linecap="butt"/>
<path d="M1853.00,1568.60 L1853.00,1465.75 Q1853.00,1461.25 1857.50,1461.25 L1889.25,1461.25 Q1893.75,1461.25 1893.75,1465.75 L1893.75,1568.60 Z" fill="#8d8d8d"/>
<line x1="1873.38" y1="1455.00" x2="1873.38" y2="1465.25" stroke="#2c2c2c" stroke-width="2.0" stroke-linecap="butt"/>
<line x1="1865.28" y1="1455.00" x2="1881.47" y2="1455.00" stroke="#2c2c2c" stroke-width="2.3" stroke-linecap="butt"/>
<path d="M1901.75,1568.60 L1901.75,1482.50 Q1901.75,1478.00 1906.25,1478.00 L1938.00,1478.00 Q1942.50,1478.00 1942.50,1482.50 L1942.50,1568.60 Z" fill="#6b6b6b"/>
<line x1="1922.12" y1="1476.25" x2="1922.12" y2="1482.00" stroke="#2c2c2c" stroke-width="2.0" stroke-linecap="butt"/>
<line x1="1914.03" y1="1476.25" x2="1930.22" y2="1476.25" stroke="#2c2c2c" stroke-width="2.3" stroke-linecap="butt"/>
<path d="M1950.50,1568.60 L1950.50,1517.50 Q1950.50,1513.00 1955.00,1513.00 L1986.50,1513.00 Q1991.00,1513.00 1991.00,1517.50 L1991.00,1568.60 Z" fill="#c7c7c7"/>
<line x1="1970.75" y1="1513.00" x2="1970.75" y2="1517.00" stroke="#2c2c2c" stroke-width="2.0" stroke-linecap="butt"/>
<line x1="1962.65" y1="1513.00" x2="1978.85" y2="1513.00" stroke="#2c2c2c" stroke-width="2.3" stroke-linecap="butt"/>
<line x1="1102.40" y1="960.80" x2="1102.40" y2="1571.60" stroke="#000" stroke-width="6" stroke-linecap="butt"/>
<line x1="1085.50" y1="1568.60" x2="2015.00" y2="1568.60" stroke="#000" stroke-width="6" stroke-linecap="butt"/>
<line x1="1085.50" y1="963.50" x2="1102.40" y2="963.50" stroke="#000" stroke-width="5.5" stroke-linecap="butt"/>
<line x1="1085.50" y1="1165.40" x2="1102.40" y2="1165.40" stroke="#000" stroke-width="5.5" stroke-linecap="butt"/>
<line x1="1085.50" y1="1367.40" x2="1102.40" y2="1367.40" stroke="#000" stroke-width="5.5" stroke-linecap="butt"/>
<line x1="1215.00" y1="1568.60" x2="1215.00" y2="1587.00" stroke="#000" stroke-width="6" stroke-linecap="butt"/>
<line x1="1443.00" y1="1568.60" x2="1443.00" y2="1587.00" stroke="#000" stroke-width="6" stroke-linecap="butt"/>
<line x1="1669.00" y1="1568.60" x2="1669.00" y2="1587.00" stroke="#000" stroke-width="6" stroke-linecap="butt"/>
<line x1="1896.60" y1="1568.60" x2="1896.60" y2="1587.00" stroke="#000" stroke-width="6" stroke-linecap="butt"/>
<text class="sb_" transform="translate(1019.26,136.00) scale(1.0184,1)" font-size="38.50" fill="#000">1.5</text>
<text class="sb_" transform="translate(1019.25,340.50) scale(1.0229,1)" font-size="38.50" fill="#000">1.0</text>
<text class="sb_" transform="translate(1020.89,544.50) scale(0.9837,1)" font-size="38.50" fill="#000">0.5</text>
<text class="sb_" transform="translate(1020.88,748.00) scale(0.9879,1)" font-size="38.50" fill="#000">0.0</text>
<text class="sb_" transform="translate(1030.40,975.00) scale(1.0069,1)" font-size="38.50" fill="#000">1.5</text>
<text class="sb_" transform="translate(1030.38,1177.50) scale(1.0114,1)" font-size="38.50" fill="#000">1.0</text>
<text class="sb_" transform="translate(1032.00,1379.30) scale(0.9726,1)" font-size="38.50" fill="#000">0.5</text>
<text class="sb_" transform="translate(1032.00,1580.00) scale(0.9768,1)" font-size="38.50" fill="#000">0.0</text>
<text class="sb_" transform="translate(0,76.20) scale(1.0000,1)" x="1269.26 1290.24 1311.23 1331.75 1340.67 1373.73 1383.30 1407.51 1429.33 1446.45 1465.88 1480.61 1504.82 1524.26 1548.47 1567.91 1592.12 1616.33 1635.76 1659.98 1674.13 1688.94 1724.89 1746.68 1770.86 1795.04 1814.45" y="0" font-size="42.50" fill="#000">786<tspan font-size="30.00" dy="-3.60">-</tspan><tspan dy="3.60">O dose-dependent manner</tspan></text>
<text class="sb_" transform="translate(0,915.50) scale(1.0000,1)" x="1277.66 1299.14 1320.62 1342.09 1356.47 1389.53 1392.86 1407.32 1419.43 1455.14 1474.31 1488.77 1512.71 1531.88 1555.82 1574.98 1598.93 1622.87 1642.03 1665.97 1680.13 1693.94 1730.23 1752.36 1776.88 1801.40 1821.15" y="0" font-size="42.50" fill="#000">786-O time-dependent manner</text>
<text class="sb_" transform="translate(976.80,0) rotate(-90) scale(0.8600,1)" x="-661.10 -632.07 -610.06 -585.69 -568.33 -546.32 -531.28 -507.49 -491.88 -465.82 -447.90 -422.97 -400.39 -382.47 -366.87" y="0" font-size="42.00" fill="#000">Protein/β-actin</text>
<text class="sb_" transform="translate(987.30,0) rotate(-90) scale(0.8600,1)" x="-1648.30 -1619.28 -1597.27 -1572.90 -1555.54 -1533.53 -1518.49 -1494.70 -1479.26 -1453.36 -1435.61 -1410.84 -1388.43 -1370.67 -1355.24" y="0" font-size="42.00" fill="#000">Protein/β-actin</text>
<text class="sb_" transform="translate(1129.51,801.00) scale(0.9675,1)" font-size="43.00" fill="#000">SMAD4</text>
<text class="sb_" transform="translate(1399.44,795.00) scale(0.9894,1)" font-size="38.00" fill="#000">E-ca</text>
<text class="sb_" transform="translate(1628.56,795.00) scale(0.9709,1)" font-size="38.00" fill="#000">N-ca</text>
<text class="sb_" transform="translate(1860.62,795.00) scale(0.9887,1)" font-size="38.00" fill="#000">Vim</text>
<text class="sb_" transform="translate(1128.90,1632.50) scale(0.9716,1)" font-size="43.00" fill="#000">SMAD4</text>
<text class="sb_" transform="translate(1404.39,1630.50) scale(0.9303,1)" font-size="43.50" fill="#000">E-ca</text>
<text class="sb_" transform="translate(1628.78,1630.50) scale(0.9406,1)" font-size="43.50" fill="#000">N-ca</text>
<text class="sb_" transform="translate(1860.59,1630.50) scale(0.9507,1)" font-size="43.50" fill="#000">Vim</text>
<rect x="1129.00" y="122.00" width="74.75" height="21.00" fill="#000000" rx="6.5"/>
<rect x="1129.00" y="158.75" width="74.75" height="20.75" fill="#8d8d8d" rx="6.5"/>
<rect x="1129.00" y="195.75" width="74.75" height="20.50" fill="#6b6b6b" rx="6.5"/>
<rect x="1129.00" y="232.50" width="74.75" height="20.75" fill="#c7c7c7" rx="6.5"/>
<text class="sb_" transform="translate(1235.43,146.00) scale(0.9500,1)" font-size="33.50" letter-spacing="0.00" fill="#000">0</text>
<text class="sb_" transform="translate(0,146.00) scale(0.9000,1)" x="1436.83 1472.94 1505.77 1528.89 1537.56 1550.77" y="0" font-size="33.50" fill="#000">mmol/l</text>
<text class="sb_" transform="translate(1235.45,183.00) scale(0.9500,1)" font-size="33.50" letter-spacing="2.74" fill="#000">1.2</text>
<text class="sb_" transform="translate(0,183.00) scale(0.9000,1)" x="1436.83 1472.94 1505.77 1528.89 1537.56 1550.77" y="0" font-size="33.50" fill="#000">mmol/l</text>
<text class="sb_" transform="translate(1235.23,220.00) scale(0.9500,1)" font-size="33.50" letter-spacing="2.96" fill="#000">2.4</text>
<text class="sb_" transform="translate(0,220.00) scale(0.9000,1)" x="1436.83 1472.94 1505.77 1528.89 1537.56 1550.77" y="0" font-size="33.50" fill="#000">mmol/l</text>
<text class="sb_" transform="translate(1235.43,257.00) scale(0.9500,1)" font-size="33.50" letter-spacing="0.00" fill="#000">5</text>
<text class="sb_" transform="translate(0,257.00) scale(0.9000,1)" x="1436.83 1472.94 1505.77 1528.89 1537.56 1550.77" y="0" font-size="33.50" fill="#000">mmol/l</text>
<rect x="1142.00" y="959.25" width="73.75" height="20.75" fill="#000000" rx="6.5"/>
<rect x="1142.00" y="995.50" width="73.75" height="20.75" fill="#8d8d8d" rx="6.5"/>
<rect x="1142.00" y="1031.75" width="73.75" height="20.75" fill="#6b6b6b" rx="6.5"/>
<rect x="1142.00" y="1068.00" width="73.75" height="20.75" fill="#c7c7c7" rx="6.5"/>
<text class="sb_" x="1246.16" y="983.00" font-size="33.50" letter-spacing="0.00" fill="#000">0</text>
<text class="sb_" transform="translate(1288.07,983.00) scale(0.8694,1)" font-size="33.50" fill="#000">h</text>
<text class="sb_" x="1246.12" y="1019.50" font-size="33.50" letter-spacing="3.39" fill="#000">12</text>
<text class="sb_" transform="translate(1296.77,1019.50) scale(0.8694,1)" font-size="33.50" fill="#000">h</text>
<text class="sb_" x="1246.16" y="1055.80" font-size="33.50" letter-spacing="3.01" fill="#000">24</text>
<text class="sb_" transform="translate(1296.77,1055.80) scale(0.8694,1)" font-size="33.50" fill="#000">h</text>
<text class="sb_" x="1247.00" y="1092.50" font-size="33.50" letter-spacing="2.68" fill="#000">48</text>
<text class="sb_" transform="translate(1296.77,1092.50) scale(0.8694,1)" font-size="33.50" fill="#000">h</text>
<line x1="1127.50" y1="373.00" x2="1277.50" y2="373.00" stroke="#1c1c1c" stroke-width="3.3" stroke-linecap="butt"/>
<text class="ss_" x="1181.10" y="376.40" font-size="40.00" letter-spacing="2.00" fill="#1c1c1c">**</text>
<line x1="1126.75" y1="412.00" x2="1223.75" y2="412.00" stroke="#1c1c1c" stroke-width="3.3" stroke-linecap="butt"/>
<text class="ss_" x="1169.60" y="420.70" font-size="40.00" letter-spacing="2.00" fill="#1c1c1c">*</text>
<line x1="1360.00" y1="306.80" x2="1510.75" y2="306.80" stroke="#1c1c1c" stroke-width="3.3" stroke-linecap="butt"/>
<text class="ss_" x="1417.10" y="313.70" font-size="40.00" letter-spacing="2.00" fill="#1c1c1c">**</text>
<line x1="1360.00" y1="345.75" x2="1457.00" y2="345.75" stroke="#1c1c1c" stroke-width="3.3" stroke-linecap="butt"/>
<text class="ss_" x="1389.10" y="350.40" font-size="40.00" letter-spacing="2.00" fill="#1c1c1c">**</text>
<line x1="1360.00" y1="382.50" x2="1411.00" y2="382.50" stroke="#1c1c1c" stroke-width="3.3" stroke-linecap="butt"/>
<text class="ss_" x="1379.10" y="391.40" font-size="40.00" letter-spacing="2.00" fill="#1c1c1c">*</text>
<line x1="1598.00" y1="213.75" x2="1750.00" y2="213.75" stroke="#1c1c1c" stroke-width="3.3" stroke-linecap="butt"/>
<text class="ss_" x="1654.10" y="213.60" font-size="40.00" letter-spacing="2.00" fill="#1c1c1c">**</text>
<line x1="1597.50" y1="252.50" x2="1695.00" y2="252.50" stroke="#1c1c1c" stroke-width="3.3" stroke-linecap="butt"/>
<text class="ss_" x="1625.10" y="259.60" font-size="40.00" letter-spacing="2.00" fill="#1c1c1c">**</text>
<line x1="1823.00" y1="594.25" x2="1963.00" y2="594.25" stroke="#1c1c1c" stroke-width="3.3" stroke-linecap="butt"/>
<text class="ss_" x="1888.10" y="602.65" font-size="40.00" letter-spacing="2.00" fill="#1c1c1c">*</text>
<line x1="1142.00" y1="1301.75" x2="1290.00" y2="1301.75" stroke="#1c1c1c" stroke-width="3.3" stroke-linecap="butt"/>
<text class="ab_" x="1197.21" y="1302.43" font-size="36.00" fill="#1c1c1c">**</text>
<line x1="1141.25" y1="1340.00" x2="1237.00" y2="1340.00" stroke="#1c1c1c" stroke-width="3.3" stroke-linecap="butt"/>
<text class="ab_" x="1180.46" y="1342.43" font-size="36.00" fill="#1c1c1c">**</text>
<line x1="1142.00" y1="1376.75" x2="1191.75" y2="1376.75" stroke="#1c1c1c" stroke-width="3.3" stroke-linecap="butt"/>
<text class="ab_" x="1159.73" y="1381.18" font-size="36.00" fill="#1c1c1c">*</text>
<line x1="1367.50" y1="1143.00" x2="1516.25" y2="1143.00" stroke="#1c1c1c" stroke-width="3.3" stroke-linecap="butt"/>
<text class="ab_" x="1423.46" y="1141.88" font-size="36.00" fill="#1c1c1c">**</text>
<line x1="1367.50" y1="1181.50" x2="1463.25" y2="1181.50" stroke="#1c1c1c" stroke-width="3.3" stroke-linecap="butt"/>
<text class="ab_" x="1406.96" y="1182.38" font-size="36.00" fill="#1c1c1c">**</text>
<line x1="1367.50" y1="1218.75" x2="1417.50" y2="1218.75" stroke="#1c1c1c" stroke-width="3.3" stroke-linecap="butt"/>
<text class="ab_" x="1380.96" y="1221.18" font-size="36.00" fill="#1c1c1c">**</text>
<line x1="1597.50" y1="1178.25" x2="1746.25" y2="1178.25" stroke="#1c1c1c" stroke-width="3.3" stroke-linecap="butt"/>
<text class="ab_" x="1652.96" y="1178.68" font-size="36.00" fill="#1c1c1c">**</text>
<line x1="1596.75" y1="1216.75" x2="1692.50" y2="1216.75" stroke="#1c1c1c" stroke-width="3.3" stroke-linecap="butt"/>
<text class="ab_" x="1635.96" y="1218.93" font-size="36.00" fill="#1c1c1c">**</text>
<line x1="1597.50" y1="1254.25" x2="1647.50" y2="1254.25" stroke="#1c1c1c" stroke-width="3.3" stroke-linecap="butt"/>
<text class="ab_" x="1615.48" y="1258.18" font-size="36.00" fill="#1c1c1c">*</text>
<line x1="1826.25" y1="1273.75" x2="1981.75" y2="1273.75" stroke="#1c1c1c" stroke-width="3.3" stroke-linecap="butt"/>
<text class="ab_" x="1881.46" y="1274.18" font-size="36.00" fill="#1c1c1c">**</text>
<line x1="1824.75" y1="1311.75" x2="1921.75" y2="1311.75" stroke="#1c1c1c" stroke-width="3.3" stroke-linecap="butt"/>
<text class="ab_" x="1863.48" y="1314.18" font-size="36.00" fill="#1c1c1c">*</text>
<line x1="1825.50" y1="1348.75" x2="1876.00" y2="1348.75" stroke="#1c1c1c" stroke-width="3.3" stroke-linecap="butt"/>
<text class="ab_" x="1843.98" y="1353.18" font-size="36.00" fill="#1c1c1c">*</text>
</g>
</svg>
</body>
</html>
